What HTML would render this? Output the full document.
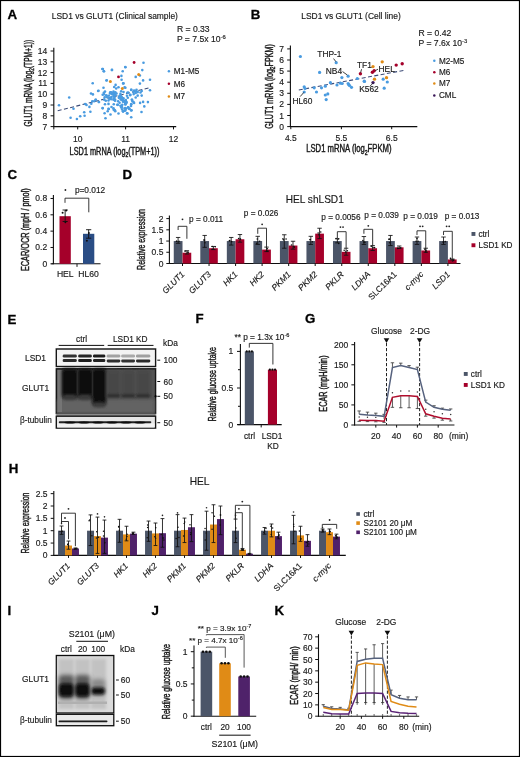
<!DOCTYPE html>
<html><head><meta charset="utf-8"><style>
html,body{margin:0;padding:0;background:#fff;}
svg{display:block;will-change:transform;}
text{font-family:"Liberation Sans",sans-serif;}
</style></head><body>
<svg width="520" height="757" viewBox="0 0 520 757">
<defs>
<filter id="gb" x="0" y="0" width="100%" height="100%"><feGaussianBlur stdDeviation="0.3"/></filter>
<filter id="bl" x="-20%" y="-50%" width="140%" height="200%"><feGaussianBlur stdDeviation="0.7"/></filter>
<filter id="bl15" x="-30%" y="-30%" width="160%" height="160%"><feGaussianBlur stdDeviation="1.7"/></filter>
<filter id="bl06" x="-30%" y="-100%" width="160%" height="300%"><feGaussianBlur stdDeviation="0.55"/></filter>
<filter id="bl09" x="-30%" y="-100%" width="160%" height="300%"><feGaussianBlur stdDeviation="0.9"/></filter>
<filter id="bl25" x="-30%" y="-30%" width="160%" height="160%"><feGaussianBlur stdDeviation="2.3"/></filter>
<filter id="bl2" x="-20%" y="-20%" width="140%" height="140%"><feGaussianBlur stdDeviation="1.5"/></filter>
</defs>
<rect x="0" y="0" width="520" height="757" fill="#fff"/>
<g filter="url(#gb)">
<text transform="translate(7.60,18.50)" font-size="13.3" font-weight="bold" fill="#000" stroke="#000" stroke-width="0.3">A</text>
<text transform="translate(51.80,18.90)" font-size="8.45" fill="#1a1a1a" stroke="#1a1a1a" stroke-width="0.16">LSD1 vs GLUT1 (Clinical sample)</text>
<text transform="translate(176.90,31.80)" font-size="8.6" fill="#1a1a1a" stroke="#1a1a1a" stroke-width="0.16">R = 0.33</text>
<text transform="translate(176.90,42.00)" font-size="8.6" fill="#1a1a1a" stroke="#1a1a1a" stroke-width="0.16">P = 7.5x 10<tspan dy="-3.27" font-size="5.85">-6</tspan><tspan dy="3.27"></tspan></text>
<line x1="53.80" y1="47.70" x2="53.80" y2="127.10" stroke="#111" stroke-width="1.1"/>
<line x1="53.80" y1="126.60" x2="53.80" y2="129.40" stroke="#111" stroke-width="1.0"/>
<line x1="53.30" y1="126.60" x2="176.20" y2="126.60" stroke="#111" stroke-width="1.1"/>
<line x1="50.60" y1="126.60" x2="53.80" y2="126.60" stroke="#111" stroke-width="1.0"/>
<text transform="translate(47.20,129.60)" font-size="8.5" text-anchor="end" fill="#1a1a1a" stroke="#1a1a1a" stroke-width="0.16">7</text>
<line x1="50.60" y1="115.80" x2="53.80" y2="115.80" stroke="#111" stroke-width="1.0"/>
<text transform="translate(47.20,118.80)" font-size="8.5" text-anchor="end" fill="#1a1a1a" stroke="#1a1a1a" stroke-width="0.16">8</text>
<line x1="50.60" y1="105.00" x2="53.80" y2="105.00" stroke="#111" stroke-width="1.0"/>
<text transform="translate(47.20,108.00)" font-size="8.5" text-anchor="end" fill="#1a1a1a" stroke="#1a1a1a" stroke-width="0.16">9</text>
<line x1="50.60" y1="94.20" x2="53.80" y2="94.20" stroke="#111" stroke-width="1.0"/>
<text transform="translate(47.20,97.20)" font-size="8.5" text-anchor="end" fill="#1a1a1a" stroke="#1a1a1a" stroke-width="0.16">10</text>
<line x1="50.60" y1="83.40" x2="53.80" y2="83.40" stroke="#111" stroke-width="1.0"/>
<text transform="translate(47.20,86.40)" font-size="8.5" text-anchor="end" fill="#1a1a1a" stroke="#1a1a1a" stroke-width="0.16">11</text>
<line x1="50.60" y1="72.60" x2="53.80" y2="72.60" stroke="#111" stroke-width="1.0"/>
<text transform="translate(47.20,75.60)" font-size="8.5" text-anchor="end" fill="#1a1a1a" stroke="#1a1a1a" stroke-width="0.16">12</text>
<line x1="50.60" y1="61.80" x2="53.80" y2="61.80" stroke="#111" stroke-width="1.0"/>
<text transform="translate(47.20,64.80)" font-size="8.5" text-anchor="end" fill="#1a1a1a" stroke="#1a1a1a" stroke-width="0.16">13</text>
<line x1="50.60" y1="51.00" x2="53.80" y2="51.00" stroke="#111" stroke-width="1.0"/>
<text transform="translate(47.20,54.00)" font-size="8.5" text-anchor="end" fill="#1a1a1a" stroke="#1a1a1a" stroke-width="0.16">14</text>
<line x1="77.70" y1="126.60" x2="77.70" y2="129.40" stroke="#111" stroke-width="1.0"/>
<text transform="translate(77.70,141.60)" font-size="8.5" text-anchor="middle" fill="#1a1a1a" stroke="#1a1a1a" stroke-width="0.16">10</text>
<line x1="125.60" y1="126.60" x2="125.60" y2="129.40" stroke="#111" stroke-width="1.0"/>
<text transform="translate(125.60,141.60)" font-size="8.5" text-anchor="middle" fill="#1a1a1a" stroke="#1a1a1a" stroke-width="0.16">11</text>
<line x1="173.50" y1="126.60" x2="173.50" y2="129.40" stroke="#111" stroke-width="1.0"/>
<text transform="translate(173.50,141.60)" font-size="8.5" text-anchor="middle" fill="#1a1a1a" stroke="#1a1a1a" stroke-width="0.16">12</text>
<text transform="translate(69.60,155.20) scale(0.735,1)" font-size="10" fill="#1a1a1a" stroke="#1a1a1a" stroke-width="0.42">LSD1 mRNA (log<tspan dy="2.20" font-size="6.80">2</tspan><tspan dy="-2.20">(TPM+1))</tspan></text>
<text transform="translate(31.60,126.50) rotate(-90) scale(0.670,1)" font-size="10" fill="#1a1a1a" stroke="#1a1a1a" stroke-width="0.42">GLUT1 mRNA (log<tspan dy="2.20" font-size="6.80">2</tspan><tspan dy="-2.20">(TPM+1))</tspan></text>
<line x1="57.70" y1="110.80" x2="150.50" y2="87.50" stroke="#3d4c78" stroke-width="1.1" stroke-dasharray="4 2.4"/>
<circle cx="59.00" cy="105.20" r="1.3" fill="#4a9be0"/>
<circle cx="69.20" cy="97.50" r="1.3" fill="#4a9be0"/>
<circle cx="70.60" cy="117.70" r="1.3" fill="#4a9be0"/>
<circle cx="73.50" cy="108.80" r="1.3" fill="#4a9be0"/>
<circle cx="76.90" cy="119.00" r="1.3" fill="#4a9be0"/>
<circle cx="80.20" cy="116.20" r="1.3" fill="#4a9be0"/>
<circle cx="84.20" cy="112.30" r="1.3" fill="#4a9be0"/>
<circle cx="84.60" cy="115.80" r="1.3" fill="#4a9be0"/>
<circle cx="85.20" cy="104.00" r="1.3" fill="#4a9be0"/>
<circle cx="86.50" cy="105.00" r="1.3" fill="#4a9be0"/>
<circle cx="89.40" cy="106.90" r="1.3" fill="#4a9be0"/>
<circle cx="90.40" cy="111.70" r="1.3" fill="#4a9be0"/>
<circle cx="91.30" cy="103.70" r="1.3" fill="#4a9be0"/>
<circle cx="92.30" cy="101.20" r="1.3" fill="#4a9be0"/>
<circle cx="91.00" cy="93.50" r="1.3" fill="#4a9be0"/>
<circle cx="92.90" cy="94.40" r="1.3" fill="#4a9be0"/>
<circle cx="92.70" cy="83.30" r="1.3" fill="#4a9be0"/>
<circle cx="94.20" cy="101.20" r="1.3" fill="#4a9be0"/>
<circle cx="95.60" cy="99.80" r="1.3" fill="#4a9be0"/>
<circle cx="98.10" cy="91.00" r="1.3" fill="#4a9be0"/>
<circle cx="99.00" cy="102.00" r="1.3" fill="#4a9be0"/>
<circle cx="102.30" cy="69.00" r="1.3" fill="#4a9be0"/>
<circle cx="103.80" cy="71.30" r="1.3" fill="#4a9be0"/>
<circle cx="106.70" cy="80.20" r="1.3" fill="#4a9be0"/>
<circle cx="111.90" cy="70.00" r="1.3" fill="#4a9be0"/>
<circle cx="125.30" cy="67.00" r="1.3" fill="#4a9be0"/>
<circle cx="112.00" cy="69.90" r="1.3" fill="#4a9be0"/>
<circle cx="122.70" cy="71.30" r="1.3" fill="#4a9be0"/>
<circle cx="121.40" cy="75.90" r="1.3" fill="#4a9be0"/>
<circle cx="106.50" cy="80.50" r="1.3" fill="#4a9be0"/>
<circle cx="121.60" cy="79.80" r="1.3" fill="#4a9be0"/>
<circle cx="123.10" cy="83.40" r="1.3" fill="#4a9be0"/>
<circle cx="102.90" cy="69.00" r="1.3" fill="#4a9be0"/>
<circle cx="104.00" cy="71.30" r="1.3" fill="#4a9be0"/>
<circle cx="123.50" cy="83.40" r="1.3" fill="#4a9be0"/>
<circle cx="115.60" cy="84.90" r="1.3" fill="#4a9be0"/>
<circle cx="114.20" cy="87.00" r="1.3" fill="#4a9be0"/>
<circle cx="116.20" cy="88.50" r="1.3" fill="#4a9be0"/>
<circle cx="118.50" cy="87.20" r="1.3" fill="#4a9be0"/>
<circle cx="124.60" cy="87.40" r="1.3" fill="#4a9be0"/>
<circle cx="103.50" cy="87.80" r="1.3" fill="#4a9be0"/>
<circle cx="98.50" cy="90.80" r="1.3" fill="#4a9be0"/>
<circle cx="131.20" cy="89.70" r="1.3" fill="#4a9be0"/>
<circle cx="105.00" cy="91.60" r="1.3" fill="#4a9be0"/>
<circle cx="103.80" cy="92.80" r="1.3" fill="#4a9be0"/>
<circle cx="111.20" cy="92.40" r="1.3" fill="#4a9be0"/>
<circle cx="113.50" cy="91.60" r="1.3" fill="#4a9be0"/>
<circle cx="115.40" cy="92.40" r="1.3" fill="#4a9be0"/>
<circle cx="110.00" cy="93.50" r="1.3" fill="#4a9be0"/>
<circle cx="112.30" cy="93.90" r="1.3" fill="#4a9be0"/>
<circle cx="114.60" cy="94.30" r="1.3" fill="#4a9be0"/>
<circle cx="116.50" cy="93.50" r="1.3" fill="#4a9be0"/>
<circle cx="121.20" cy="91.20" r="1.3" fill="#4a9be0"/>
<circle cx="123.50" cy="92.00" r="1.3" fill="#4a9be0"/>
<circle cx="120.40" cy="93.90" r="1.3" fill="#4a9be0"/>
<circle cx="102.70" cy="94.70" r="1.3" fill="#4a9be0"/>
<circle cx="127.30" cy="92.80" r="1.3" fill="#4a9be0"/>
<circle cx="130.00" cy="95.10" r="1.3" fill="#4a9be0"/>
<circle cx="133.50" cy="92.00" r="1.3" fill="#4a9be0"/>
<circle cx="108.80" cy="95.80" r="1.3" fill="#4a9be0"/>
<circle cx="111.50" cy="97.00" r="1.3" fill="#4a9be0"/>
<circle cx="113.80" cy="95.80" r="1.3" fill="#4a9be0"/>
<circle cx="114.60" cy="97.80" r="1.3" fill="#4a9be0"/>
<circle cx="120.40" cy="96.60" r="1.3" fill="#4a9be0"/>
<circle cx="121.90" cy="97.40" r="1.3" fill="#4a9be0"/>
<circle cx="123.50" cy="98.20" r="1.3" fill="#4a9be0"/>
<circle cx="104.60" cy="97.40" r="1.3" fill="#4a9be0"/>
<circle cx="104.20" cy="99.70" r="1.3" fill="#4a9be0"/>
<circle cx="105.80" cy="100.80" r="1.3" fill="#4a9be0"/>
<circle cx="108.50" cy="100.50" r="1.3" fill="#4a9be0"/>
<circle cx="113.50" cy="99.70" r="1.3" fill="#4a9be0"/>
<circle cx="115.00" cy="100.80" r="1.3" fill="#4a9be0"/>
<circle cx="118.10" cy="101.20" r="1.3" fill="#4a9be0"/>
<circle cx="119.60" cy="102.80" r="1.3" fill="#4a9be0"/>
<circle cx="121.50" cy="99.70" r="1.3" fill="#4a9be0"/>
<circle cx="124.20" cy="100.80" r="1.3" fill="#4a9be0"/>
<circle cx="125.80" cy="100.10" r="1.3" fill="#4a9be0"/>
<circle cx="126.50" cy="102.00" r="1.3" fill="#4a9be0"/>
<circle cx="131.90" cy="99.70" r="1.3" fill="#4a9be0"/>
<circle cx="133.50" cy="102.00" r="1.3" fill="#4a9be0"/>
<circle cx="95.80" cy="99.70" r="1.3" fill="#4a9be0"/>
<circle cx="98.80" cy="102.00" r="1.3" fill="#4a9be0"/>
<circle cx="105.00" cy="104.30" r="1.3" fill="#4a9be0"/>
<circle cx="108.50" cy="103.90" r="1.3" fill="#4a9be0"/>
<circle cx="113.80" cy="104.30" r="1.3" fill="#4a9be0"/>
<circle cx="117.30" cy="104.70" r="1.3" fill="#4a9be0"/>
<circle cx="120.40" cy="105.80" r="1.3" fill="#4a9be0"/>
<circle cx="122.30" cy="104.70" r="1.3" fill="#4a9be0"/>
<circle cx="125.40" cy="104.30" r="1.3" fill="#4a9be0"/>
<circle cx="131.20" cy="104.30" r="1.3" fill="#4a9be0"/>
<circle cx="102.70" cy="108.20" r="1.3" fill="#4a9be0"/>
<circle cx="111.50" cy="107.00" r="1.3" fill="#4a9be0"/>
<circle cx="113.50" cy="108.20" r="1.3" fill="#4a9be0"/>
<circle cx="114.60" cy="110.10" r="1.3" fill="#4a9be0"/>
<circle cx="108.50" cy="108.90" r="1.3" fill="#4a9be0"/>
<circle cx="107.70" cy="111.20" r="1.3" fill="#4a9be0"/>
<circle cx="121.20" cy="107.40" r="1.3" fill="#4a9be0"/>
<circle cx="124.60" cy="108.50" r="1.3" fill="#4a9be0"/>
<circle cx="128.10" cy="107.40" r="1.3" fill="#4a9be0"/>
<circle cx="129.60" cy="108.90" r="1.3" fill="#4a9be0"/>
<circle cx="123.10" cy="111.60" r="1.3" fill="#4a9be0"/>
<circle cx="124.60" cy="110.80" r="1.3" fill="#4a9be0"/>
<circle cx="131.20" cy="110.50" r="1.3" fill="#4a9be0"/>
<circle cx="104.60" cy="113.20" r="1.3" fill="#4a9be0"/>
<circle cx="115.00" cy="110.50" r="1.3" fill="#4a9be0"/>
<circle cx="143.50" cy="62.80" r="1.3" fill="#4a9be0"/>
<circle cx="125.40" cy="67.30" r="1.3" fill="#4a9be0"/>
<circle cx="142.30" cy="70.10" r="1.3" fill="#4a9be0"/>
<circle cx="139.90" cy="75.50" r="1.3" fill="#4a9be0"/>
<circle cx="135.70" cy="76.90" r="1.3" fill="#4a9be0"/>
<circle cx="143.10" cy="80.40" r="1.3" fill="#4a9be0"/>
<circle cx="150.00" cy="79.80" r="1.3" fill="#4a9be0"/>
<circle cx="139.90" cy="83.60" r="1.3" fill="#4a9be0"/>
<circle cx="125.40" cy="87.80" r="1.3" fill="#4a9be0"/>
<circle cx="131.30" cy="89.90" r="1.3" fill="#4a9be0"/>
<circle cx="134.10" cy="90.60" r="1.3" fill="#4a9be0"/>
<circle cx="136.50" cy="89.80" r="1.3" fill="#4a9be0"/>
<circle cx="136.10" cy="91.30" r="1.3" fill="#4a9be0"/>
<circle cx="141.70" cy="91.00" r="1.3" fill="#4a9be0"/>
<circle cx="150.00" cy="90.30" r="1.3" fill="#4a9be0"/>
<circle cx="128.20" cy="92.50" r="1.3" fill="#4a9be0"/>
<circle cx="133.70" cy="94.10" r="1.3" fill="#4a9be0"/>
<circle cx="135.70" cy="92.90" r="1.3" fill="#4a9be0"/>
<circle cx="137.70" cy="92.10" r="1.3" fill="#4a9be0"/>
<circle cx="130.40" cy="94.90" r="1.3" fill="#4a9be0"/>
<circle cx="140.50" cy="92.50" r="1.3" fill="#4a9be0"/>
<circle cx="137.70" cy="95.60" r="1.3" fill="#4a9be0"/>
<circle cx="135.70" cy="97.50" r="1.3" fill="#4a9be0"/>
<circle cx="141.70" cy="95.60" r="1.3" fill="#4a9be0"/>
<circle cx="127.00" cy="95.70" r="1.3" fill="#4a9be0"/>
<circle cx="127.80" cy="97.70" r="1.3" fill="#4a9be0"/>
<circle cx="125.80" cy="101.00" r="1.3" fill="#4a9be0"/>
<circle cx="126.60" cy="102.80" r="1.3" fill="#4a9be0"/>
<circle cx="125.40" cy="104.40" r="1.3" fill="#4a9be0"/>
<circle cx="132.00" cy="99.70" r="1.3" fill="#4a9be0"/>
<circle cx="132.50" cy="101.30" r="1.3" fill="#4a9be0"/>
<circle cx="134.10" cy="103.00" r="1.3" fill="#4a9be0"/>
<circle cx="131.30" cy="104.00" r="1.3" fill="#4a9be0"/>
<circle cx="140.10" cy="102.90" r="1.3" fill="#4a9be0"/>
<circle cx="143.10" cy="101.90" r="1.3" fill="#4a9be0"/>
<circle cx="147.90" cy="102.10" r="1.3" fill="#4a9be0"/>
<circle cx="144.30" cy="106.40" r="1.3" fill="#4a9be0"/>
<circle cx="128.20" cy="107.20" r="1.3" fill="#4a9be0"/>
<circle cx="129.00" cy="108.80" r="1.3" fill="#4a9be0"/>
<circle cx="131.50" cy="110.20" r="1.3" fill="#4a9be0"/>
<circle cx="131.00" cy="106.00" r="1.3" fill="#4a9be0"/>
<circle cx="125.40" cy="110.40" r="1.3" fill="#4a9be0"/>
<circle cx="127.00" cy="113.30" r="1.3" fill="#4a9be0"/>
<circle cx="141.50" cy="112.00" r="1.3" fill="#4a9be0"/>
<circle cx="131.20" cy="117.30" r="1.3" fill="#4a9be0"/>
<circle cx="105.50" cy="118.20" r="1.3" fill="#4a9be0"/>
<circle cx="127.40" cy="113.40" r="1.3" fill="#4a9be0"/>
<circle cx="123.00" cy="111.30" r="1.3" fill="#4a9be0"/>
<circle cx="108.70" cy="109.00" r="1.3" fill="#4a9be0"/>
<circle cx="113.70" cy="109.80" r="1.3" fill="#4a9be0"/>
<circle cx="115.20" cy="111.30" r="1.3" fill="#4a9be0"/>
<circle cx="102.60" cy="108.10" r="1.3" fill="#4a9be0"/>
<circle cx="118.50" cy="113.50" r="1.3" fill="#4a9be0"/>
<circle cx="110.50" cy="114.50" r="1.3" fill="#4a9be0"/>
<circle cx="111.79" cy="93.24" r="1.3" fill="#4a9be0"/>
<circle cx="113.87" cy="92.86" r="1.3" fill="#4a9be0"/>
<circle cx="112.03" cy="93.35" r="1.3" fill="#4a9be0"/>
<circle cx="110.61" cy="93.05" r="1.3" fill="#4a9be0"/>
<circle cx="112.57" cy="94.17" r="1.3" fill="#4a9be0"/>
<circle cx="110.21" cy="92.21" r="1.3" fill="#4a9be0"/>
<circle cx="111.20" cy="99.24" r="1.3" fill="#4a9be0"/>
<circle cx="113.85" cy="96.17" r="1.3" fill="#4a9be0"/>
<circle cx="115.12" cy="99.86" r="1.3" fill="#4a9be0"/>
<circle cx="113.68" cy="98.46" r="1.3" fill="#4a9be0"/>
<circle cx="119.49" cy="96.06" r="1.3" fill="#4a9be0"/>
<circle cx="121.12" cy="96.24" r="1.3" fill="#4a9be0"/>
<circle cx="119.64" cy="96.97" r="1.3" fill="#4a9be0"/>
<circle cx="118.93" cy="97.86" r="1.3" fill="#4a9be0"/>
<circle cx="120.74" cy="99.37" r="1.3" fill="#4a9be0"/>
<circle cx="121.08" cy="98.56" r="1.3" fill="#4a9be0"/>
<circle cx="123.00" cy="101.65" r="1.3" fill="#4a9be0"/>
<circle cx="122.81" cy="100.11" r="1.3" fill="#4a9be0"/>
<circle cx="125.19" cy="102.98" r="1.3" fill="#4a9be0"/>
<circle cx="124.50" cy="101.83" r="1.3" fill="#4a9be0"/>
<circle cx="122.19" cy="99.92" r="1.3" fill="#4a9be0"/>
<circle cx="104.07" cy="94.28" r="1.3" fill="#4a9be0"/>
<circle cx="106.17" cy="95.60" r="1.3" fill="#4a9be0"/>
<circle cx="106.52" cy="95.55" r="1.3" fill="#4a9be0"/>
<circle cx="122.02" cy="107.39" r="1.3" fill="#4a9be0"/>
<circle cx="117.80" cy="104.84" r="1.3" fill="#4a9be0"/>
<circle cx="121.81" cy="105.88" r="1.3" fill="#4a9be0"/>
<circle cx="126.11" cy="108.59" r="1.3" fill="#4a9be0"/>
<circle cx="122.12" cy="109.52" r="1.3" fill="#4a9be0"/>
<circle cx="125.23" cy="108.08" r="1.3" fill="#4a9be0"/>
<circle cx="115.18" cy="95.33" r="1.3" fill="#4a9be0"/>
<circle cx="119.04" cy="97.03" r="1.3" fill="#4a9be0"/>
<circle cx="115.32" cy="94.99" r="1.3" fill="#4a9be0"/>
<circle cx="107.24" cy="97.24" r="1.3" fill="#4a9be0"/>
<circle cx="110.31" cy="97.71" r="1.3" fill="#4a9be0"/>
<circle cx="109.26" cy="98.79" r="1.3" fill="#4a9be0"/>
<circle cx="134.10" cy="62.50" r="1.4" fill="#a5062c"/>
<circle cx="118.50" cy="76.90" r="1.4" fill="#a5062c"/>
<circle cx="138.70" cy="74.40" r="1.5" fill="#e08b16"/>
<circle cx="110.40" cy="81.40" r="1.5" fill="#e08b16"/>
<circle cx="122.30" cy="88.50" r="1.5" fill="#e08b16"/>
<circle cx="168.90" cy="71.20" r="1.25" fill="#4a9be0"/>
<text transform="translate(173.80,74.00)" font-size="8.2" fill="#1a1a1a" stroke="#1a1a1a" stroke-width="0.16">M1-M5</text>
<circle cx="168.90" cy="83.80" r="1.25" fill="#a5062c"/>
<text transform="translate(173.80,86.60)" font-size="8.2" fill="#1a1a1a" stroke="#1a1a1a" stroke-width="0.16">M6</text>
<circle cx="168.90" cy="96.50" r="1.25" fill="#e08b16"/>
<text transform="translate(173.80,99.30)" font-size="8.2" fill="#1a1a1a" stroke="#1a1a1a" stroke-width="0.16">M7</text>
<text transform="translate(250.80,18.50)" font-size="13.3" font-weight="bold" fill="#000" stroke="#000" stroke-width="0.3">B</text>
<text transform="translate(301.30,18.90)" font-size="8.45" fill="#1a1a1a" stroke="#1a1a1a" stroke-width="0.16">LSD1 vs GLUT1 (Cell line)</text>
<text transform="translate(418.50,35.70)" font-size="8.6" fill="#1a1a1a" stroke="#1a1a1a" stroke-width="0.16">R = 0.42</text>
<text transform="translate(418.50,45.80)" font-size="8.6" fill="#1a1a1a" stroke="#1a1a1a" stroke-width="0.16">P = 7.6x 10<tspan dy="-3.27" font-size="5.85">-3</tspan><tspan dy="3.27"></tspan></text>
<line x1="290.40" y1="45.40" x2="290.40" y2="127.10" stroke="#111" stroke-width="1.1"/>
<line x1="289.90" y1="126.60" x2="417.30" y2="126.60" stroke="#111" stroke-width="1.1"/>
<line x1="287.20" y1="126.60" x2="290.40" y2="126.60" stroke="#111" stroke-width="1.0"/>
<text transform="translate(284.00,129.60)" font-size="8.5" text-anchor="end" fill="#1a1a1a" stroke="#1a1a1a" stroke-width="0.16">0</text>
<line x1="287.20" y1="115.50" x2="290.40" y2="115.50" stroke="#111" stroke-width="1.0"/>
<text transform="translate(284.00,118.50)" font-size="8.5" text-anchor="end" fill="#1a1a1a" stroke="#1a1a1a" stroke-width="0.16">1</text>
<line x1="287.20" y1="104.40" x2="290.40" y2="104.40" stroke="#111" stroke-width="1.0"/>
<text transform="translate(284.00,107.40)" font-size="8.5" text-anchor="end" fill="#1a1a1a" stroke="#1a1a1a" stroke-width="0.16">2</text>
<line x1="287.20" y1="93.30" x2="290.40" y2="93.30" stroke="#111" stroke-width="1.0"/>
<text transform="translate(284.00,96.30)" font-size="8.5" text-anchor="end" fill="#1a1a1a" stroke="#1a1a1a" stroke-width="0.16">3</text>
<line x1="287.20" y1="82.20" x2="290.40" y2="82.20" stroke="#111" stroke-width="1.0"/>
<text transform="translate(284.00,85.20)" font-size="8.5" text-anchor="end" fill="#1a1a1a" stroke="#1a1a1a" stroke-width="0.16">4</text>
<line x1="287.20" y1="71.10" x2="290.40" y2="71.10" stroke="#111" stroke-width="1.0"/>
<text transform="translate(284.00,74.10)" font-size="8.5" text-anchor="end" fill="#1a1a1a" stroke="#1a1a1a" stroke-width="0.16">5</text>
<line x1="287.20" y1="60.00" x2="290.40" y2="60.00" stroke="#111" stroke-width="1.0"/>
<text transform="translate(284.00,63.00)" font-size="8.5" text-anchor="end" fill="#1a1a1a" stroke="#1a1a1a" stroke-width="0.16">6</text>
<line x1="287.20" y1="48.90" x2="290.40" y2="48.90" stroke="#111" stroke-width="1.0"/>
<text transform="translate(284.00,51.90)" font-size="8.5" text-anchor="end" fill="#1a1a1a" stroke="#1a1a1a" stroke-width="0.16">7</text>
<line x1="290.80" y1="126.60" x2="290.80" y2="129.20" stroke="#111" stroke-width="1.0"/>
<text transform="translate(290.80,140.80)" font-size="8.5" text-anchor="middle" fill="#1a1a1a" stroke="#1a1a1a" stroke-width="0.16">4.5</text>
<line x1="341.40" y1="126.60" x2="341.40" y2="129.20" stroke="#111" stroke-width="1.0"/>
<text transform="translate(341.40,140.80)" font-size="8.5" text-anchor="middle" fill="#1a1a1a" stroke="#1a1a1a" stroke-width="0.16">5.5</text>
<line x1="391.70" y1="126.60" x2="391.70" y2="129.20" stroke="#111" stroke-width="1.0"/>
<text transform="translate(391.70,140.80)" font-size="8.5" text-anchor="middle" fill="#1a1a1a" stroke="#1a1a1a" stroke-width="0.16">6.5</text>
<text transform="translate(306.20,152.40) scale(0.770,1)" font-size="10" fill="#1a1a1a" stroke="#1a1a1a" stroke-width="0.42">LSD1 mRNA (log<tspan dy="2.20" font-size="6.80">2</tspan><tspan dy="-2.20">FPKM)</tspan></text>
<text transform="translate(272.60,128.70) rotate(-90) scale(0.715,1)" font-size="10" fill="#1a1a1a" stroke="#1a1a1a" stroke-width="0.42">GLUT1 mRNA (log<tspan dy="2.20" font-size="6.80">2</tspan><tspan dy="-2.20">FPKM)</tspan></text>
<line x1="298.80" y1="90.00" x2="404.20" y2="70.30" stroke="#3d4c78" stroke-width="1.1" stroke-dasharray="4 2.4"/>
<circle cx="300.40" cy="56.50" r="1.6" fill="#4a9be0"/>
<circle cx="336.20" cy="62.70" r="1.6" fill="#4a9be0"/>
<circle cx="319.60" cy="72.40" r="1.6" fill="#4a9be0"/>
<circle cx="341.90" cy="77.60" r="1.6" fill="#4a9be0"/>
<circle cx="348.10" cy="76.20" r="1.6" fill="#4a9be0"/>
<circle cx="357.30" cy="78.50" r="1.6" fill="#4a9be0"/>
<circle cx="364.20" cy="81.20" r="1.6" fill="#4a9be0"/>
<circle cx="304.20" cy="86.80" r="1.6" fill="#4a9be0"/>
<circle cx="305.00" cy="88.50" r="1.6" fill="#4a9be0"/>
<circle cx="314.20" cy="87.80" r="1.6" fill="#4a9be0"/>
<circle cx="316.50" cy="92.00" r="1.6" fill="#4a9be0"/>
<circle cx="321.50" cy="87.80" r="1.6" fill="#4a9be0"/>
<circle cx="325.30" cy="86.20" r="1.6" fill="#4a9be0"/>
<circle cx="330.40" cy="82.70" r="1.6" fill="#4a9be0"/>
<circle cx="337.00" cy="85.00" r="1.6" fill="#4a9be0"/>
<circle cx="340.40" cy="83.20" r="1.6" fill="#4a9be0"/>
<circle cx="342.20" cy="83.50" r="1.6" fill="#4a9be0"/>
<circle cx="348.10" cy="83.50" r="1.6" fill="#4a9be0"/>
<circle cx="348.80" cy="84.70" r="1.6" fill="#4a9be0"/>
<circle cx="351.50" cy="87.30" r="1.6" fill="#4a9be0"/>
<circle cx="304.20" cy="92.00" r="1.6" fill="#4a9be0"/>
<circle cx="325.30" cy="95.00" r="1.6" fill="#4a9be0"/>
<circle cx="327.80" cy="93.90" r="1.6" fill="#4a9be0"/>
<circle cx="326.20" cy="99.60" r="1.6" fill="#4a9be0"/>
<circle cx="364.50" cy="81.50" r="1.6" fill="#4a9be0"/>
<circle cx="383.20" cy="79.20" r="1.6" fill="#4a9be0"/>
<circle cx="387.30" cy="82.00" r="1.6" fill="#4a9be0"/>
<circle cx="384.20" cy="88.20" r="1.6" fill="#4a9be0"/>
<circle cx="349.50" cy="85.50" r="1.6" fill="#4a9be0"/>
<circle cx="360.40" cy="73.80" r="1.7" fill="#a5062c"/>
<circle cx="372.40" cy="72.30" r="1.7" fill="#a5062c"/>
<circle cx="374.20" cy="70.80" r="1.7" fill="#a5062c"/>
<circle cx="396.20" cy="65.10" r="1.7" fill="#a5062c"/>
<circle cx="402.20" cy="63.80" r="1.7" fill="#a5062c"/>
<circle cx="373.00" cy="66.60" r="1.65" fill="#e08b16"/>
<circle cx="382.20" cy="61.80" r="1.65" fill="#e08b16"/>
<circle cx="374.50" cy="79.20" r="1.65" fill="#e08b16"/>
<circle cx="386.50" cy="77.70" r="1.65" fill="#e08b16"/>
<circle cx="373.00" cy="82.60" r="1.65" fill="#3a1858"/>
<text transform="translate(317.30,57.20)" font-size="8.4" fill="#1a1a1a" stroke="#1a1a1a" stroke-width="0.16">THP-1</text>
<line x1="333.60" y1="58.60" x2="335.80" y2="61.60" stroke="#111" stroke-width="0.8"/>
<text transform="translate(325.80,74.00)" font-size="8.4" fill="#1a1a1a" stroke="#1a1a1a" stroke-width="0.16">NB4</text>
<line x1="342.60" y1="71.60" x2="347.30" y2="75.00" stroke="#111" stroke-width="0.8"/>
<text transform="translate(292.40,104.30)" font-size="8.4" fill="#1a1a1a" stroke="#1a1a1a" stroke-width="0.16">HL60</text>
<line x1="303.80" y1="92.40" x2="300.20" y2="96.60" stroke="#111" stroke-width="0.8"/>
<text transform="translate(357.00,67.50)" font-size="8.4" fill="#1a1a1a" stroke="#1a1a1a" stroke-width="0.16">TF1</text>
<line x1="361.60" y1="69.20" x2="360.60" y2="72.50" stroke="#111" stroke-width="0.8"/>
<text transform="translate(378.50,72.30)" font-size="8.4" fill="#1a1a1a" stroke="#1a1a1a" stroke-width="0.16">HEL</text>
<line x1="375.30" y1="70.60" x2="378.00" y2="69.20" stroke="#111" stroke-width="0.8"/>
<text transform="translate(359.20,92.40)" font-size="8.4" fill="#1a1a1a" stroke="#1a1a1a" stroke-width="0.16">K562</text>
<line x1="372.60" y1="83.60" x2="369.50" y2="86.60" stroke="#111" stroke-width="0.8"/>
<circle cx="434.30" cy="60.80" r="1.25" fill="#4a9be0"/>
<text transform="translate(438.90,63.60)" font-size="8.2" fill="#1a1a1a" stroke="#1a1a1a" stroke-width="0.16">M2-M5</text>
<circle cx="434.30" cy="72.30" r="1.25" fill="#a5062c"/>
<text transform="translate(438.90,75.10)" font-size="8.2" fill="#1a1a1a" stroke="#1a1a1a" stroke-width="0.16">M6</text>
<circle cx="434.30" cy="83.50" r="1.25" fill="#e08b16"/>
<text transform="translate(438.90,86.30)" font-size="8.2" fill="#1a1a1a" stroke="#1a1a1a" stroke-width="0.16">M7</text>
<circle cx="434.30" cy="95.40" r="1.25" fill="#3a1858"/>
<text transform="translate(438.90,98.20)" font-size="8.2" fill="#1a1a1a" stroke="#1a1a1a" stroke-width="0.16">CML</text>
<text transform="translate(7.40,178.70)" font-size="13.3" font-weight="bold" fill="#000" stroke="#000" stroke-width="0.3">C</text>
<line x1="53.40" y1="195.10" x2="53.40" y2="264.30" stroke="#111" stroke-width="1.1"/>
<line x1="51.50" y1="263.80" x2="100.50" y2="263.80" stroke="#111" stroke-width="1.1"/>
<line x1="50.50" y1="263.80" x2="53.40" y2="263.80" stroke="#111" stroke-width="1.0"/>
<text transform="translate(47.20,266.80)" font-size="8.5" text-anchor="end" fill="#1a1a1a" stroke="#1a1a1a" stroke-width="0.16">0</text>
<line x1="50.50" y1="247.47" x2="53.40" y2="247.47" stroke="#111" stroke-width="1.0"/>
<text transform="translate(47.20,250.47)" font-size="8.5" text-anchor="end" fill="#1a1a1a" stroke="#1a1a1a" stroke-width="0.16">0.2</text>
<line x1="50.50" y1="231.14" x2="53.40" y2="231.14" stroke="#111" stroke-width="1.0"/>
<text transform="translate(47.20,234.14)" font-size="8.5" text-anchor="end" fill="#1a1a1a" stroke="#1a1a1a" stroke-width="0.16">0.4</text>
<line x1="50.50" y1="214.81" x2="53.40" y2="214.81" stroke="#111" stroke-width="1.0"/>
<text transform="translate(47.20,217.81)" font-size="8.5" text-anchor="end" fill="#1a1a1a" stroke="#1a1a1a" stroke-width="0.16">0.6</text>
<line x1="50.50" y1="198.48" x2="53.40" y2="198.48" stroke="#111" stroke-width="1.0"/>
<text transform="translate(47.20,201.48)" font-size="8.5" text-anchor="end" fill="#1a1a1a" stroke="#1a1a1a" stroke-width="0.16">0.8</text>
<line x1="77.00" y1="263.80" x2="77.00" y2="266.80" stroke="#111" stroke-width="1.0"/>
<rect x="59.50" y="216.20" width="11.30" height="47.60" fill="#a5062c"/>
<rect x="83.00" y="233.80" width="11.30" height="30.00" fill="#2c4d85"/>
<line x1="65.15" y1="210.00" x2="65.15" y2="221.50" stroke="#111" stroke-width="0.9"/>
<line x1="62.55" y1="210.00" x2="67.75" y2="210.00" stroke="#111" stroke-width="0.9"/>
<line x1="62.55" y1="221.50" x2="67.75" y2="221.50" stroke="#111" stroke-width="0.9"/>
<line x1="88.65" y1="229.70" x2="88.65" y2="238.20" stroke="#111" stroke-width="0.9"/>
<line x1="86.05" y1="229.70" x2="91.25" y2="229.70" stroke="#111" stroke-width="0.9"/>
<line x1="86.05" y1="238.20" x2="91.25" y2="238.20" stroke="#111" stroke-width="0.9"/>
<circle cx="62.60" cy="212.80" r="1.0" fill="#111"/>
<circle cx="66.20" cy="210.60" r="1.0" fill="#111"/>
<circle cx="65.40" cy="222.30" r="1.0" fill="#111"/>
<circle cx="88.90" cy="233.10" r="1.0" fill="#111"/>
<circle cx="86.90" cy="240.80" r="1.0" fill="#111"/>
<path d="M65,202.8 V198.2 H88.8 V212.3" fill="none" stroke="#222" stroke-width="0.9"/>
<circle cx="65.40" cy="190.00" r="0.9" fill="#222"/>
<text transform="translate(74.90,192.60)" font-size="8.3" fill="#1a1a1a" stroke="#1a1a1a" stroke-width="0.16">p=0.012</text>
<text transform="translate(28.90,271.10) rotate(-90) scale(0.732,1)" font-size="10" fill="#1a1a1a" stroke="#1a1a1a" stroke-width="0.42">ECAR/OCR (mpH / pmol)</text>
<text transform="translate(65.25,277.40)" font-size="8.6" text-anchor="middle" fill="#1a1a1a" stroke="#1a1a1a" stroke-width="0.16">HEL</text>
<text transform="translate(88.50,277.40)" font-size="8.6" text-anchor="middle" fill="#1a1a1a" stroke="#1a1a1a" stroke-width="0.16">HL60</text>
<text transform="translate(122.60,178.70)" font-size="13.3" font-weight="bold" fill="#000" stroke="#000" stroke-width="0.3">D</text>
<text transform="translate(285.80,202.50)" font-size="10.1" fill="#1a1a1a" stroke="#1a1a1a" stroke-width="0.16">HEL shLSD1</text>
<line x1="169.40" y1="215.40" x2="169.40" y2="264.00" stroke="#111" stroke-width="1.1"/>
<line x1="168.90" y1="263.50" x2="460.50" y2="263.50" stroke="#111" stroke-width="1.1"/>
<line x1="166.30" y1="263.50" x2="169.40" y2="263.50" stroke="#111" stroke-width="1.0"/>
<text transform="translate(163.40,266.50)" font-size="8.5" text-anchor="end" fill="#1a1a1a" stroke="#1a1a1a" stroke-width="0.16">0</text>
<line x1="166.30" y1="252.28" x2="169.40" y2="252.28" stroke="#111" stroke-width="1.0"/>
<text transform="translate(163.40,255.28)" font-size="8.5" text-anchor="end" fill="#1a1a1a" stroke="#1a1a1a" stroke-width="0.16">0.5</text>
<line x1="166.30" y1="241.05" x2="169.40" y2="241.05" stroke="#111" stroke-width="1.0"/>
<text transform="translate(163.40,244.05)" font-size="8.5" text-anchor="end" fill="#1a1a1a" stroke="#1a1a1a" stroke-width="0.16">1</text>
<line x1="166.30" y1="229.82" x2="169.40" y2="229.82" stroke="#111" stroke-width="1.0"/>
<text transform="translate(163.40,232.82)" font-size="8.5" text-anchor="end" fill="#1a1a1a" stroke="#1a1a1a" stroke-width="0.16">1.5</text>
<line x1="166.30" y1="218.60" x2="169.40" y2="218.60" stroke="#111" stroke-width="1.0"/>
<text transform="translate(163.40,221.60)" font-size="8.5" text-anchor="end" fill="#1a1a1a" stroke="#1a1a1a" stroke-width="0.16">2</text>
<text transform="translate(145.20,269.90) rotate(-90) scale(0.699,1)" font-size="10" fill="#1a1a1a" stroke="#1a1a1a" stroke-width="0.42">Relative expression</text>
<rect x="173.75" y="241.05" width="8.75" height="22.45" fill="#4c5467"/>
<rect x="182.50" y="252.72" width="8.75" height="10.78" fill="#a5062c"/>
<line x1="178.12" y1="237.46" x2="178.12" y2="243.30" stroke="#111" stroke-width="0.85"/>
<line x1="175.93" y1="237.46" x2="180.32" y2="237.46" stroke="#111" stroke-width="0.85"/>
<line x1="175.93" y1="243.30" x2="180.32" y2="243.30" stroke="#111" stroke-width="0.85"/>
<line x1="186.88" y1="250.70" x2="186.88" y2="254.07" stroke="#111" stroke-width="0.85"/>
<line x1="184.68" y1="250.70" x2="189.07" y2="250.70" stroke="#111" stroke-width="0.85"/>
<line x1="184.68" y1="254.07" x2="189.07" y2="254.07" stroke="#111" stroke-width="0.85"/>
<circle cx="176.71" cy="241.29" r="0.8" fill="#111"/>
<circle cx="187.96" cy="251.99" r="0.8" fill="#111"/>
<circle cx="179.05" cy="241.41" r="0.8" fill="#111"/>
<circle cx="188.08" cy="252.61" r="0.8" fill="#111"/>
<circle cx="176.45" cy="241.29" r="0.8" fill="#111"/>
<circle cx="185.07" cy="251.17" r="0.8" fill="#111"/>
<line x1="182.50" y1="263.50" x2="182.50" y2="266.00" stroke="#111" stroke-width="1.0"/>
<text transform="translate(185.10,274.80) rotate(-45)" font-size="8.5" text-anchor="end" font-style="italic" fill="#1a1a1a" stroke="#1a1a1a" stroke-width="0.16">GLUT1</text>
<rect x="200.29" y="241.05" width="8.75" height="22.45" fill="#4c5467"/>
<rect x="209.04" y="248.23" width="8.75" height="15.27" fill="#a5062c"/>
<line x1="204.66" y1="235.44" x2="204.66" y2="247.34" stroke="#111" stroke-width="0.85"/>
<line x1="202.47" y1="235.44" x2="206.86" y2="235.44" stroke="#111" stroke-width="0.85"/>
<line x1="202.47" y1="247.34" x2="206.86" y2="247.34" stroke="#111" stroke-width="0.85"/>
<line x1="213.41" y1="246.44" x2="213.41" y2="249.58" stroke="#111" stroke-width="0.85"/>
<line x1="211.22" y1="246.44" x2="215.61" y2="246.44" stroke="#111" stroke-width="0.85"/>
<line x1="211.22" y1="249.58" x2="215.61" y2="249.58" stroke="#111" stroke-width="0.85"/>
<circle cx="204.99" cy="242.69" r="0.8" fill="#111"/>
<circle cx="215.28" cy="246.71" r="0.8" fill="#111"/>
<circle cx="204.53" cy="240.17" r="0.8" fill="#111"/>
<circle cx="212.27" cy="249.23" r="0.8" fill="#111"/>
<circle cx="203.82" cy="240.01" r="0.8" fill="#111"/>
<circle cx="212.26" cy="246.54" r="0.8" fill="#111"/>
<line x1="209.04" y1="263.50" x2="209.04" y2="266.00" stroke="#111" stroke-width="1.0"/>
<text transform="translate(211.64,274.80) rotate(-45)" font-size="8.5" text-anchor="end" font-style="italic" fill="#1a1a1a" stroke="#1a1a1a" stroke-width="0.16">GLUT3</text>
<rect x="226.83" y="241.05" width="8.75" height="22.45" fill="#4c5467"/>
<rect x="235.58" y="239.25" width="8.75" height="24.25" fill="#a5062c"/>
<line x1="231.20" y1="237.46" x2="231.20" y2="245.09" stroke="#111" stroke-width="0.85"/>
<line x1="229.00" y1="237.46" x2="233.40" y2="237.46" stroke="#111" stroke-width="0.85"/>
<line x1="229.00" y1="245.09" x2="233.40" y2="245.09" stroke="#111" stroke-width="0.85"/>
<line x1="239.95" y1="234.54" x2="239.95" y2="242.17" stroke="#111" stroke-width="0.85"/>
<line x1="237.75" y1="234.54" x2="242.15" y2="234.54" stroke="#111" stroke-width="0.85"/>
<line x1="237.75" y1="242.17" x2="242.15" y2="242.17" stroke="#111" stroke-width="0.85"/>
<circle cx="229.80" cy="240.43" r="0.8" fill="#111"/>
<circle cx="238.63" cy="238.49" r="0.8" fill="#111"/>
<circle cx="231.64" cy="241.67" r="0.8" fill="#111"/>
<circle cx="240.42" cy="239.02" r="0.8" fill="#111"/>
<circle cx="229.38" cy="240.89" r="0.8" fill="#111"/>
<circle cx="240.43" cy="239.18" r="0.8" fill="#111"/>
<line x1="235.58" y1="263.50" x2="235.58" y2="266.00" stroke="#111" stroke-width="1.0"/>
<text transform="translate(238.18,274.80) rotate(-45)" font-size="8.5" text-anchor="end" font-style="italic" fill="#1a1a1a" stroke="#1a1a1a" stroke-width="0.16">HK1</text>
<rect x="253.37" y="241.05" width="8.75" height="22.45" fill="#4c5467"/>
<rect x="262.12" y="249.58" width="8.75" height="13.92" fill="#a5062c"/>
<line x1="257.75" y1="236.34" x2="257.75" y2="244.42" stroke="#111" stroke-width="0.85"/>
<line x1="255.55" y1="236.34" x2="259.94" y2="236.34" stroke="#111" stroke-width="0.85"/>
<line x1="255.55" y1="244.42" x2="259.94" y2="244.42" stroke="#111" stroke-width="0.85"/>
<line x1="266.50" y1="247.11" x2="266.50" y2="251.60" stroke="#111" stroke-width="0.85"/>
<line x1="264.30" y1="247.11" x2="268.69" y2="247.11" stroke="#111" stroke-width="0.85"/>
<line x1="264.30" y1="251.60" x2="268.69" y2="251.60" stroke="#111" stroke-width="0.85"/>
<circle cx="259.66" cy="241.29" r="0.8" fill="#111"/>
<circle cx="267.37" cy="248.74" r="0.8" fill="#111"/>
<circle cx="256.60" cy="243.32" r="0.8" fill="#111"/>
<circle cx="266.91" cy="250.94" r="0.8" fill="#111"/>
<circle cx="257.27" cy="238.95" r="0.8" fill="#111"/>
<circle cx="267.98" cy="250.95" r="0.8" fill="#111"/>
<line x1="262.12" y1="263.50" x2="262.12" y2="266.00" stroke="#111" stroke-width="1.0"/>
<text transform="translate(264.72,274.80) rotate(-45)" font-size="8.5" text-anchor="end" font-style="italic" fill="#1a1a1a" stroke="#1a1a1a" stroke-width="0.16">HK2</text>
<rect x="279.91" y="241.05" width="8.75" height="22.45" fill="#4c5467"/>
<rect x="288.66" y="245.54" width="8.75" height="17.96" fill="#a5062c"/>
<line x1="284.28" y1="234.76" x2="284.28" y2="248.23" stroke="#111" stroke-width="0.85"/>
<line x1="282.08" y1="234.76" x2="286.48" y2="234.76" stroke="#111" stroke-width="0.85"/>
<line x1="282.08" y1="248.23" x2="286.48" y2="248.23" stroke="#111" stroke-width="0.85"/>
<line x1="293.03" y1="241.27" x2="293.03" y2="249.13" stroke="#111" stroke-width="0.85"/>
<line x1="290.83" y1="241.27" x2="295.23" y2="241.27" stroke="#111" stroke-width="0.85"/>
<line x1="290.83" y1="249.13" x2="295.23" y2="249.13" stroke="#111" stroke-width="0.85"/>
<circle cx="286.12" cy="239.05" r="0.8" fill="#111"/>
<circle cx="293.96" cy="246.52" r="0.8" fill="#111"/>
<circle cx="283.61" cy="239.90" r="0.8" fill="#111"/>
<circle cx="294.26" cy="247.28" r="0.8" fill="#111"/>
<circle cx="282.95" cy="238.92" r="0.8" fill="#111"/>
<circle cx="291.51" cy="244.98" r="0.8" fill="#111"/>
<line x1="288.66" y1="263.50" x2="288.66" y2="266.00" stroke="#111" stroke-width="1.0"/>
<text transform="translate(291.26,274.80) rotate(-45)" font-size="8.5" text-anchor="end" font-style="italic" fill="#1a1a1a" stroke="#1a1a1a" stroke-width="0.16">PKM1</text>
<rect x="306.45" y="241.05" width="8.75" height="22.45" fill="#4c5467"/>
<rect x="315.20" y="233.64" width="8.75" height="29.86" fill="#a5062c"/>
<line x1="310.82" y1="236.34" x2="310.82" y2="244.42" stroke="#111" stroke-width="0.85"/>
<line x1="308.62" y1="236.34" x2="313.02" y2="236.34" stroke="#111" stroke-width="0.85"/>
<line x1="308.62" y1="244.42" x2="313.02" y2="244.42" stroke="#111" stroke-width="0.85"/>
<line x1="319.57" y1="228.25" x2="319.57" y2="238.58" stroke="#111" stroke-width="0.85"/>
<line x1="317.38" y1="228.25" x2="321.77" y2="228.25" stroke="#111" stroke-width="0.85"/>
<line x1="317.38" y1="238.58" x2="321.77" y2="238.58" stroke="#111" stroke-width="0.85"/>
<circle cx="312.34" cy="241.86" r="0.8" fill="#111"/>
<circle cx="320.74" cy="232.02" r="0.8" fill="#111"/>
<circle cx="310.07" cy="239.60" r="0.8" fill="#111"/>
<circle cx="318.91" cy="234.85" r="0.8" fill="#111"/>
<circle cx="310.22" cy="239.70" r="0.8" fill="#111"/>
<circle cx="318.17" cy="233.07" r="0.8" fill="#111"/>
<line x1="315.20" y1="263.50" x2="315.20" y2="266.00" stroke="#111" stroke-width="1.0"/>
<text transform="translate(317.80,274.80) rotate(-45)" font-size="8.5" text-anchor="end" font-style="italic" fill="#1a1a1a" stroke="#1a1a1a" stroke-width="0.16">PKM2</text>
<rect x="332.99" y="241.05" width="8.75" height="22.45" fill="#4c5467"/>
<rect x="341.74" y="251.83" width="8.75" height="11.67" fill="#a5062c"/>
<line x1="337.37" y1="238.81" x2="337.37" y2="242.85" stroke="#111" stroke-width="0.85"/>
<line x1="335.17" y1="238.81" x2="339.56" y2="238.81" stroke="#111" stroke-width="0.85"/>
<line x1="335.17" y1="242.85" x2="339.56" y2="242.85" stroke="#111" stroke-width="0.85"/>
<line x1="346.12" y1="248.23" x2="346.12" y2="255.19" stroke="#111" stroke-width="0.85"/>
<line x1="343.92" y1="248.23" x2="348.31" y2="248.23" stroke="#111" stroke-width="0.85"/>
<line x1="343.92" y1="255.19" x2="348.31" y2="255.19" stroke="#111" stroke-width="0.85"/>
<circle cx="338.21" cy="238.89" r="0.8" fill="#111"/>
<circle cx="344.18" cy="250.24" r="0.8" fill="#111"/>
<circle cx="338.65" cy="243.44" r="0.8" fill="#111"/>
<circle cx="347.34" cy="250.73" r="0.8" fill="#111"/>
<circle cx="336.12" cy="238.51" r="0.8" fill="#111"/>
<circle cx="345.57" cy="252.00" r="0.8" fill="#111"/>
<line x1="341.74" y1="263.50" x2="341.74" y2="266.00" stroke="#111" stroke-width="1.0"/>
<text transform="translate(344.34,274.80) rotate(-45)" font-size="8.5" text-anchor="end" font-style="italic" fill="#1a1a1a" stroke="#1a1a1a" stroke-width="0.16">PKLR</text>
<rect x="359.53" y="241.05" width="8.75" height="22.45" fill="#4c5467"/>
<rect x="368.28" y="248.23" width="8.75" height="15.27" fill="#a5062c"/>
<line x1="363.90" y1="236.56" x2="363.90" y2="244.42" stroke="#111" stroke-width="0.85"/>
<line x1="361.70" y1="236.56" x2="366.10" y2="236.56" stroke="#111" stroke-width="0.85"/>
<line x1="361.70" y1="244.42" x2="366.10" y2="244.42" stroke="#111" stroke-width="0.85"/>
<line x1="372.65" y1="245.54" x2="372.65" y2="250.48" stroke="#111" stroke-width="0.85"/>
<line x1="370.45" y1="245.54" x2="374.85" y2="245.54" stroke="#111" stroke-width="0.85"/>
<line x1="370.45" y1="250.48" x2="374.85" y2="250.48" stroke="#111" stroke-width="0.85"/>
<circle cx="362.89" cy="240.61" r="0.8" fill="#111"/>
<circle cx="374.54" cy="247.67" r="0.8" fill="#111"/>
<circle cx="363.84" cy="242.08" r="0.8" fill="#111"/>
<circle cx="371.21" cy="246.44" r="0.8" fill="#111"/>
<circle cx="364.92" cy="242.40" r="0.8" fill="#111"/>
<circle cx="373.03" cy="247.48" r="0.8" fill="#111"/>
<line x1="368.28" y1="263.50" x2="368.28" y2="266.00" stroke="#111" stroke-width="1.0"/>
<text transform="translate(370.88,274.80) rotate(-45)" font-size="8.5" text-anchor="end" font-style="italic" fill="#1a1a1a" stroke="#1a1a1a" stroke-width="0.16">LDHA</text>
<rect x="386.07" y="241.05" width="8.75" height="22.45" fill="#4c5467"/>
<rect x="394.82" y="247.34" width="8.75" height="16.16" fill="#a5062c"/>
<line x1="390.44" y1="235.44" x2="390.44" y2="245.54" stroke="#111" stroke-width="0.85"/>
<line x1="388.25" y1="235.44" x2="392.64" y2="235.44" stroke="#111" stroke-width="0.85"/>
<line x1="388.25" y1="245.54" x2="392.64" y2="245.54" stroke="#111" stroke-width="0.85"/>
<line x1="399.19" y1="245.99" x2="399.19" y2="248.46" stroke="#111" stroke-width="0.85"/>
<line x1="397.00" y1="245.99" x2="401.39" y2="245.99" stroke="#111" stroke-width="0.85"/>
<line x1="397.00" y1="248.46" x2="401.39" y2="248.46" stroke="#111" stroke-width="0.85"/>
<circle cx="388.97" cy="239.35" r="0.8" fill="#111"/>
<circle cx="400.72" cy="247.75" r="0.8" fill="#111"/>
<circle cx="389.55" cy="242.69" r="0.8" fill="#111"/>
<circle cx="397.52" cy="248.36" r="0.8" fill="#111"/>
<circle cx="389.25" cy="239.14" r="0.8" fill="#111"/>
<circle cx="397.96" cy="248.45" r="0.8" fill="#111"/>
<line x1="394.82" y1="263.50" x2="394.82" y2="266.00" stroke="#111" stroke-width="1.0"/>
<text transform="translate(397.42,274.80) rotate(-45)" font-size="8.5" text-anchor="end" fill="#1a1a1a" stroke="#1a1a1a" stroke-width="0.16">SLC16A1</text>
<rect x="412.61" y="241.05" width="8.75" height="22.45" fill="#4c5467"/>
<rect x="421.36" y="250.48" width="8.75" height="13.02" fill="#a5062c"/>
<line x1="416.99" y1="237.01" x2="416.99" y2="244.42" stroke="#111" stroke-width="0.85"/>
<line x1="414.79" y1="237.01" x2="419.19" y2="237.01" stroke="#111" stroke-width="0.85"/>
<line x1="414.79" y1="244.42" x2="419.19" y2="244.42" stroke="#111" stroke-width="0.85"/>
<line x1="425.74" y1="248.23" x2="425.74" y2="252.28" stroke="#111" stroke-width="0.85"/>
<line x1="423.54" y1="248.23" x2="427.94" y2="248.23" stroke="#111" stroke-width="0.85"/>
<line x1="423.54" y1="252.28" x2="427.94" y2="252.28" stroke="#111" stroke-width="0.85"/>
<circle cx="416.10" cy="241.27" r="0.8" fill="#111"/>
<circle cx="425.92" cy="251.91" r="0.8" fill="#111"/>
<circle cx="416.99" cy="238.59" r="0.8" fill="#111"/>
<circle cx="425.99" cy="250.41" r="0.8" fill="#111"/>
<circle cx="418.14" cy="241.31" r="0.8" fill="#111"/>
<circle cx="424.84" cy="249.26" r="0.8" fill="#111"/>
<line x1="421.36" y1="263.50" x2="421.36" y2="266.00" stroke="#111" stroke-width="1.0"/>
<text transform="translate(423.96,274.80) rotate(-45)" font-size="8.5" text-anchor="end" font-style="italic" fill="#1a1a1a" stroke="#1a1a1a" stroke-width="0.16">c-myc</text>
<rect x="439.15" y="241.05" width="8.75" height="22.45" fill="#4c5467"/>
<rect x="447.90" y="259.46" width="8.75" height="4.04" fill="#a5062c"/>
<line x1="443.52" y1="237.01" x2="443.52" y2="244.42" stroke="#111" stroke-width="0.85"/>
<line x1="441.32" y1="237.01" x2="445.72" y2="237.01" stroke="#111" stroke-width="0.85"/>
<line x1="441.32" y1="244.42" x2="445.72" y2="244.42" stroke="#111" stroke-width="0.85"/>
<line x1="452.27" y1="259.01" x2="452.27" y2="259.91" stroke="#111" stroke-width="0.85"/>
<line x1="450.07" y1="259.01" x2="454.47" y2="259.01" stroke="#111" stroke-width="0.85"/>
<line x1="450.07" y1="259.91" x2="454.47" y2="259.91" stroke="#111" stroke-width="0.85"/>
<circle cx="445.26" cy="241.65" r="0.8" fill="#111"/>
<circle cx="453.56" cy="260.37" r="0.8" fill="#111"/>
<circle cx="443.45" cy="242.27" r="0.8" fill="#111"/>
<circle cx="452.44" cy="260.99" r="0.8" fill="#111"/>
<circle cx="443.19" cy="242.04" r="0.8" fill="#111"/>
<circle cx="450.44" cy="258.33" r="0.8" fill="#111"/>
<line x1="447.90" y1="263.50" x2="447.90" y2="266.00" stroke="#111" stroke-width="1.0"/>
<text transform="translate(450.50,274.80) rotate(-45)" font-size="8.5" text-anchor="end" font-style="italic" fill="#1a1a1a" stroke="#1a1a1a" stroke-width="0.16">LSD1</text>
<path d="M178.12,230.00 V226.30 H186.88 V238.80" fill="none" stroke="#222" stroke-width="0.9"/>
<circle cx="182.50" cy="219.30" r="0.9" fill="#222"/>
<path d="M257.75,233.80 V228.20 H266.50 V248.20" fill="none" stroke="#222" stroke-width="0.9"/>
<circle cx="262.12" cy="224.30" r="0.9" fill="#222"/>
<path d="M337.37,238.10 V231.70 H346.12 V248.20" fill="none" stroke="#222" stroke-width="0.9"/>
<circle cx="340.44" cy="227.10" r="0.9" fill="#222"/>
<circle cx="343.04" cy="227.10" r="0.9" fill="#222"/>
<path d="M363.90,233.80 V229.30 H372.65 V245.00" fill="none" stroke="#222" stroke-width="0.9"/>
<circle cx="368.28" cy="225.80" r="0.9" fill="#222"/>
<path d="M416.99,235.00 V230.80 H425.74 V248.80" fill="none" stroke="#222" stroke-width="0.9"/>
<circle cx="420.06" cy="226.30" r="0.9" fill="#222"/>
<circle cx="422.66" cy="226.30" r="0.9" fill="#222"/>
<path d="M443.52,235.00 V231.30 H452.27 V258.80" fill="none" stroke="#222" stroke-width="0.9"/>
<circle cx="446.60" cy="226.30" r="0.9" fill="#222"/>
<circle cx="449.20" cy="226.30" r="0.9" fill="#222"/>
<text transform="translate(189.10,222.00)" font-size="8.25" fill="#1a1a1a" stroke="#1a1a1a" stroke-width="0.16">p = 0.011</text>
<text transform="translate(243.80,216.30)" font-size="8.25" fill="#1a1a1a" stroke="#1a1a1a" stroke-width="0.16">p = 0.026</text>
<text transform="translate(321.30,220.00)" font-size="8.25" fill="#1a1a1a" stroke="#1a1a1a" stroke-width="0.16">p = 0.0056</text>
<text transform="translate(364.30,217.60)" font-size="8.25" fill="#1a1a1a" stroke="#1a1a1a" stroke-width="0.16">p = 0.039</text>
<text transform="translate(403.30,218.80)" font-size="8.25" fill="#1a1a1a" stroke="#1a1a1a" stroke-width="0.16">p = 0.019</text>
<text transform="translate(444.70,219.40)" font-size="8.25" fill="#1a1a1a" stroke="#1a1a1a" stroke-width="0.16">p = 0.013</text>
<rect x="471.50" y="232.00" width="3.90" height="3.90" fill="#4c5467"/>
<text transform="translate(478.40,236.90)" font-size="8.2" fill="#1a1a1a" stroke="#1a1a1a" stroke-width="0.16">ctrl</text>
<rect x="471.50" y="243.30" width="3.90" height="3.90" fill="#a5062c"/>
<text transform="translate(478.40,248.10)" font-size="8.2" fill="#1a1a1a" stroke="#1a1a1a" stroke-width="0.16">LSD1 KD</text>
<text transform="translate(7.60,323.70)" font-size="13.3" font-weight="bold" fill="#000" stroke="#000" stroke-width="0.3">E</text>
<text transform="translate(76.00,342.00)" font-size="8.3" fill="#1a1a1a" stroke="#1a1a1a" stroke-width="0.16">ctrl</text>
<line x1="58.70" y1="345.40" x2="104.20" y2="345.40" stroke="#111" stroke-width="1.0"/>
<text transform="translate(113.00,341.90)" font-size="8.3" fill="#1a1a1a" stroke="#1a1a1a" stroke-width="0.16">LSD1 KD</text>
<line x1="107.70" y1="345.40" x2="153.50" y2="345.40" stroke="#111" stroke-width="1.0"/>
<text transform="translate(163.00,346.20)" font-size="8.3" fill="#1a1a1a" stroke="#1a1a1a" stroke-width="0.16">kDa</text>
<text transform="translate(25.00,361.00)" font-size="8.4" fill="#1a1a1a" stroke="#1a1a1a" stroke-width="0.16">LSD1</text>
<text transform="translate(22.10,391.40)" font-size="8.4" fill="#1a1a1a" stroke="#1a1a1a" stroke-width="0.16">GLUT1</text>
<text transform="translate(20.00,423.40) scale(0.982,1)" font-size="8.4" fill="#1a1a1a" stroke="#1a1a1a" stroke-width="0.16">β-tubulin</text>
<line x1="157.30" y1="360.20" x2="160.20" y2="360.20" stroke="#111" stroke-width="1.0"/>
<text transform="translate(163.50,363.20)" font-size="8.4" fill="#1a1a1a" stroke="#1a1a1a" stroke-width="0.16">100</text>
<line x1="157.30" y1="381.50" x2="160.20" y2="381.50" stroke="#111" stroke-width="1.0"/>
<text transform="translate(163.50,384.50)" font-size="8.4" fill="#1a1a1a" stroke="#1a1a1a" stroke-width="0.16">60</text>
<line x1="157.30" y1="396.30" x2="160.20" y2="396.30" stroke="#111" stroke-width="1.0"/>
<text transform="translate(163.50,399.30)" font-size="8.4" fill="#1a1a1a" stroke="#1a1a1a" stroke-width="0.16">50</text>
<line x1="157.30" y1="422.70" x2="160.20" y2="422.70" stroke="#111" stroke-width="1.0"/>
<text transform="translate(163.50,425.70)" font-size="8.4" fill="#1a1a1a" stroke="#1a1a1a" stroke-width="0.16">50</text>
<rect x="56.30" y="349.00" width="99.30" height="17.50" fill="#f3f3f3" stroke="#151515" stroke-width="1.4"/>
<rect x="62.70" y="354.4" width="14.10" height="3.2" rx="1.4" fill="#303030" filter="url(#bl06)"/>
<rect x="62.70" y="359.00" width="14.10" height="3.0" rx="1.3" fill="#2a2a2a" filter="url(#bl06)"/>
<rect x="78.20" y="354.4" width="13.60" height="3.2" rx="1.4" fill="#262626" filter="url(#bl06)"/>
<rect x="78.20" y="359.00" width="13.60" height="3.0" rx="1.3" fill="#1a1a1a" filter="url(#bl06)"/>
<rect x="93.00" y="354.4" width="12.30" height="3.2" rx="1.4" fill="#1e1e1e" filter="url(#bl06)"/>
<rect x="93.00" y="359.00" width="12.30" height="3.0" rx="1.3" fill="#222" filter="url(#bl06)"/>
<rect x="106.70" y="354.4" width="13.60" height="3.2" rx="1.4" fill="#a2a2a2" filter="url(#bl06)"/>
<rect x="106.70" y="359.40" width="13.60" height="3.0" rx="1.3" fill="#2e2e2e" filter="url(#bl06)"/>
<rect x="121.20" y="354.4" width="13.80" height="3.2" rx="1.4" fill="#aaaaaa" filter="url(#bl06)"/>
<rect x="121.20" y="359.40" width="13.80" height="3.0" rx="1.3" fill="#303030" filter="url(#bl06)"/>
<rect x="136.00" y="354.4" width="14.30" height="3.2" rx="1.4" fill="#a0a0a0" filter="url(#bl06)"/>
<rect x="136.00" y="359.40" width="14.30" height="3.0" rx="1.3" fill="#2c2c2c" filter="url(#bl06)"/>
<rect x="56.30" y="368.80" width="99.30" height="44.80" fill="#525252" stroke="#151515" stroke-width="1.4"/>
<rect x="57.30" y="399.5" width="97.30" height="13.4" fill="#646464" filter="url(#bl2)"/>
<rect x="57.50" y="370" width="4.5" height="42" fill="#747474" filter="url(#bl)"/>
<rect x="61.90" y="368.5" width="15.70" height="29.0" rx="3" fill="#0c0c0c" filter="url(#bl15)"/>
<rect x="63.00" y="394.80" width="13.50" height="5" rx="2" fill="#3a3a3a" filter="url(#bl15)"/>
<rect x="77.40" y="368.5" width="15.20" height="29.0" rx="3" fill="#0c0c0c" filter="url(#bl15)"/>
<rect x="78.50" y="394.80" width="13.00" height="5" rx="2" fill="#3a3a3a" filter="url(#bl15)"/>
<rect x="92.20" y="368.5" width="13.90" height="36.5" rx="3" fill="#0c0c0c" filter="url(#bl15)"/>
<rect x="93.30" y="402.30" width="11.70" height="5" rx="2" fill="#3a3a3a" filter="url(#bl15)"/>
<rect x="107.00" y="370.5" width="13.00" height="27" fill="#464646" filter="url(#bl2)"/>
<rect x="107.00" y="394.4" width="13.00" height="2.8" rx="1" fill="#2c2c2c" filter="url(#bl09)"/>
<rect x="121.50" y="370.5" width="13.20" height="27" fill="#464646" filter="url(#bl2)"/>
<rect x="121.50" y="394.4" width="13.20" height="2.8" rx="1" fill="#2c2c2c" filter="url(#bl09)"/>
<rect x="136.30" y="370.5" width="13.70" height="27" fill="#464646" filter="url(#bl2)"/>
<rect x="136.30" y="394.4" width="13.70" height="2.8" rx="1" fill="#2c2c2c" filter="url(#bl09)"/>
<rect x="76.90" y="370" width="1.2" height="26" fill="#2a2a2a" filter="url(#bl)"/>
<rect x="91.80" y="370" width="1.2" height="26" fill="#2a2a2a" filter="url(#bl)"/>
<rect x="56.30" y="413.60" width="99.30" height="2.30" fill="#8a8a8a"/>
<circle cx="155.60" cy="396.30" r="1.1" fill="#000"/>
<rect x="56.30" y="416.20" width="99.30" height="11.90" fill="#e6e6e6" stroke="#151515" stroke-width="1.4"/>
<rect x="57.30" y="423.5" width="97.30" height="4" fill="#f2f2f2" filter="url(#bl)"/>
<rect x="58.8" y="421.3" width="92.5" height="2.0" rx="1" fill="#222" filter="url(#bl)"/>
<ellipse cx="70" cy="422.4" rx="5.5" ry="1.0" fill="#0a0a0a" filter="url(#bl)"/>
<ellipse cx="84" cy="422.4" rx="5.5" ry="1.0" fill="#0a0a0a" filter="url(#bl)"/>
<ellipse cx="98" cy="422.4" rx="5.5" ry="1.0" fill="#0a0a0a" filter="url(#bl)"/>
<ellipse cx="112" cy="422.4" rx="5.5" ry="1.0" fill="#0a0a0a" filter="url(#bl)"/>
<ellipse cx="126" cy="422.4" rx="5.5" ry="1.0" fill="#0a0a0a" filter="url(#bl)"/>
<ellipse cx="140" cy="422.4" rx="5.5" ry="1.0" fill="#0a0a0a" filter="url(#bl)"/>
<text transform="translate(195.60,323.30)" font-size="13.3" font-weight="bold" fill="#000" stroke="#000" stroke-width="0.3">F</text>
<line x1="240.40" y1="344.00" x2="240.40" y2="425.10" stroke="#111" stroke-width="1.1"/>
<line x1="237.50" y1="424.60" x2="281.70" y2="424.60" stroke="#111" stroke-width="1.1"/>
<line x1="237.00" y1="424.60" x2="240.40" y2="424.60" stroke="#111" stroke-width="1.0"/>
<text transform="translate(233.30,427.60)" font-size="8.5" text-anchor="end" fill="#1a1a1a" stroke="#1a1a1a" stroke-width="0.16">0</text>
<line x1="237.00" y1="388.00" x2="240.40" y2="388.00" stroke="#111" stroke-width="1.0"/>
<text transform="translate(233.30,391.00)" font-size="8.5" text-anchor="end" fill="#1a1a1a" stroke="#1a1a1a" stroke-width="0.16">0.5</text>
<line x1="237.00" y1="351.40" x2="240.40" y2="351.40" stroke="#111" stroke-width="1.0"/>
<text transform="translate(233.30,354.40)" font-size="8.5" text-anchor="end" fill="#1a1a1a" stroke="#1a1a1a" stroke-width="0.16">1</text>
<line x1="238.00" y1="406.30" x2="240.40" y2="406.30" stroke="#111" stroke-width="1.0"/>
<line x1="238.00" y1="369.70" x2="240.40" y2="369.70" stroke="#111" stroke-width="1.0"/>
<line x1="261.20" y1="424.60" x2="261.20" y2="427.40" stroke="#111" stroke-width="1.0"/>
<rect x="244.80" y="351.40" width="9.10" height="73.20" fill="#4c5467"/>
<rect x="267.90" y="369.70" width="9.10" height="54.90" fill="#a5062c"/>
<circle cx="246.75" cy="351.40" r="1.1" fill="#111"/>
<circle cx="249.35" cy="351.40" r="1.1" fill="#111"/>
<circle cx="251.95" cy="351.40" r="1.1" fill="#111"/>
<circle cx="269.85" cy="369.70" r="1.1" fill="#111"/>
<circle cx="272.45" cy="369.70" r="1.1" fill="#111"/>
<circle cx="275.05" cy="369.70" r="1.1" fill="#111"/>
<path d="M249.3,347.6 V343.4 H272.9 V364.5" fill="none" stroke="#222" stroke-width="0.9"/>
<text transform="translate(234.40,340.20)" font-size="8.3" fill="#1a1a1a" stroke="#1a1a1a" stroke-width="0.16">** p = 1.3x 10<tspan dy="-3.15" font-size="5.64">-6</tspan><tspan dy="3.15"></tspan></text>
<text transform="translate(216.20,421.60) rotate(-90) scale(0.704,1)" font-size="10" fill="#1a1a1a" stroke="#1a1a1a" stroke-width="0.42">Relative glucose uptake</text>
<text transform="translate(249.50,438.50)" font-size="8.3" text-anchor="middle" fill="#1a1a1a" stroke="#1a1a1a" stroke-width="0.16">ctrl</text>
<text transform="translate(272.10,438.50)" font-size="8.3" text-anchor="middle" fill="#1a1a1a" stroke="#1a1a1a" stroke-width="0.16">LSD1</text>
<text transform="translate(272.90,449.00)" font-size="8.3" text-anchor="middle" fill="#1a1a1a" stroke="#1a1a1a" stroke-width="0.16">KD</text>
<text transform="translate(305.00,323.20)" font-size="13.3" font-weight="bold" fill="#000" stroke="#000" stroke-width="0.3">G</text>
<line x1="354.60" y1="342.00" x2="354.60" y2="425.50" stroke="#111" stroke-width="1.1"/>
<line x1="354.10" y1="425.00" x2="454.40" y2="425.00" stroke="#111" stroke-width="1.1"/>
<line x1="351.40" y1="425.00" x2="354.60" y2="425.00" stroke="#111" stroke-width="1.0"/>
<text transform="translate(348.30,428.00)" font-size="8.5" text-anchor="end" fill="#1a1a1a" stroke="#1a1a1a" stroke-width="0.16">0</text>
<line x1="351.40" y1="404.93" x2="354.60" y2="404.93" stroke="#111" stroke-width="1.0"/>
<text transform="translate(348.30,407.93)" font-size="8.5" text-anchor="end" fill="#1a1a1a" stroke="#1a1a1a" stroke-width="0.16">50</text>
<line x1="351.40" y1="384.85" x2="354.60" y2="384.85" stroke="#111" stroke-width="1.0"/>
<text transform="translate(348.30,387.85)" font-size="8.5" text-anchor="end" fill="#1a1a1a" stroke="#1a1a1a" stroke-width="0.16">100</text>
<line x1="351.40" y1="364.77" x2="354.60" y2="364.77" stroke="#111" stroke-width="1.0"/>
<text transform="translate(348.30,367.77)" font-size="8.5" text-anchor="end" fill="#1a1a1a" stroke="#1a1a1a" stroke-width="0.16">150</text>
<line x1="351.40" y1="344.70" x2="354.60" y2="344.70" stroke="#111" stroke-width="1.0"/>
<text transform="translate(348.30,347.70)" font-size="8.5" text-anchor="end" fill="#1a1a1a" stroke="#1a1a1a" stroke-width="0.16">200</text>
<line x1="375.80" y1="425.00" x2="375.80" y2="427.60" stroke="#111" stroke-width="1.0"/>
<text transform="translate(375.80,438.60)" font-size="8.5" text-anchor="middle" fill="#1a1a1a" stroke="#1a1a1a" stroke-width="0.16">20</text>
<line x1="396.60" y1="425.00" x2="396.60" y2="427.60" stroke="#111" stroke-width="1.0"/>
<text transform="translate(396.60,438.60)" font-size="8.5" text-anchor="middle" fill="#1a1a1a" stroke="#1a1a1a" stroke-width="0.16">40</text>
<line x1="417.40" y1="425.00" x2="417.40" y2="427.60" stroke="#111" stroke-width="1.0"/>
<text transform="translate(417.40,438.60)" font-size="8.5" text-anchor="middle" fill="#1a1a1a" stroke="#1a1a1a" stroke-width="0.16">60</text>
<line x1="438.20" y1="425.00" x2="438.20" y2="427.60" stroke="#111" stroke-width="1.0"/>
<text transform="translate(438.20,438.60)" font-size="8.5" text-anchor="middle" fill="#1a1a1a" stroke="#1a1a1a" stroke-width="0.16">80</text>
<text transform="translate(449.00,438.60)" font-size="8.5" fill="#1a1a1a" stroke="#1a1a1a" stroke-width="0.16">(min)</text>
<text transform="translate(327.20,411.70) rotate(-90) scale(0.729,1)" font-size="10" fill="#1a1a1a" stroke="#1a1a1a" stroke-width="0.42">ECAR (mpH/min)</text>
<text transform="translate(371.00,334.00)" font-size="8.45" fill="#1a1a1a" stroke="#1a1a1a" stroke-width="0.16">Glucose</text>
<text transform="translate(410.00,334.00)" font-size="8.45" fill="#1a1a1a" stroke="#1a1a1a" stroke-width="0.16">2-DG</text>
<path d="M383.70,338.2 L389.30,338.2 L386.50,343.0 Z" fill="#111"/>
<line x1="386.50" y1="343.00" x2="386.50" y2="425.00" stroke="#222" stroke-width="1.0" stroke-dasharray="3.2 1.8"/>
<path d="M416.80,338.2 L422.40,338.2 L419.60,343.0 Z" fill="#111"/>
<line x1="419.60" y1="343.00" x2="419.60" y2="425.00" stroke="#222" stroke-width="1.0" stroke-dasharray="3.2 1.8"/>
<line x1="359.16" y1="414.16" x2="359.16" y2="410.95" stroke="#333" stroke-width="0.8"/>
<line x1="357.46" y1="410.95" x2="360.86" y2="410.95" stroke="#333" stroke-width="0.8"/>
<line x1="359.16" y1="420.18" x2="359.16" y2="421.39" stroke="#333" stroke-width="0.8"/>
<line x1="357.46" y1="421.39" x2="360.86" y2="421.39" stroke="#333" stroke-width="0.8"/>
<circle cx="359.16" cy="416.98" r="0.7" fill="#333"/>
<line x1="367.48" y1="414.96" x2="367.48" y2="412.15" stroke="#333" stroke-width="0.8"/>
<line x1="365.78" y1="412.15" x2="369.18" y2="412.15" stroke="#333" stroke-width="0.8"/>
<line x1="367.48" y1="420.38" x2="367.48" y2="421.59" stroke="#333" stroke-width="0.8"/>
<line x1="365.78" y1="421.59" x2="369.18" y2="421.59" stroke="#333" stroke-width="0.8"/>
<circle cx="367.48" cy="417.18" r="0.7" fill="#333"/>
<line x1="375.80" y1="415.56" x2="375.80" y2="413.16" stroke="#333" stroke-width="0.8"/>
<line x1="374.10" y1="413.16" x2="377.50" y2="413.16" stroke="#333" stroke-width="0.8"/>
<line x1="375.80" y1="420.58" x2="375.80" y2="421.79" stroke="#333" stroke-width="0.8"/>
<line x1="374.10" y1="421.79" x2="377.50" y2="421.79" stroke="#333" stroke-width="0.8"/>
<circle cx="375.80" cy="417.38" r="0.7" fill="#333"/>
<line x1="384.12" y1="416.37" x2="384.12" y2="414.36" stroke="#333" stroke-width="0.8"/>
<line x1="382.42" y1="414.36" x2="385.82" y2="414.36" stroke="#333" stroke-width="0.8"/>
<line x1="384.12" y1="421.19" x2="384.12" y2="422.39" stroke="#333" stroke-width="0.8"/>
<line x1="382.42" y1="422.39" x2="385.82" y2="422.39" stroke="#333" stroke-width="0.8"/>
<circle cx="384.12" cy="417.99" r="0.7" fill="#333"/>
<line x1="392.44" y1="367.59" x2="392.44" y2="362.77" stroke="#333" stroke-width="0.8"/>
<line x1="390.74" y1="362.77" x2="394.14" y2="362.77" stroke="#333" stroke-width="0.8"/>
<line x1="392.44" y1="397.30" x2="392.44" y2="407.33" stroke="#333" stroke-width="0.8"/>
<line x1="390.74" y1="407.33" x2="394.14" y2="407.33" stroke="#333" stroke-width="0.8"/>
<circle cx="392.44" cy="392.70" r="0.75" fill="#333"/>
<line x1="400.76" y1="365.58" x2="400.76" y2="363.17" stroke="#333" stroke-width="0.8"/>
<line x1="399.06" y1="363.17" x2="402.46" y2="363.17" stroke="#333" stroke-width="0.8"/>
<line x1="400.76" y1="395.69" x2="400.76" y2="407.74" stroke="#333" stroke-width="0.8"/>
<line x1="399.06" y1="407.74" x2="402.46" y2="407.74" stroke="#333" stroke-width="0.8"/>
<circle cx="400.76" cy="391.09" r="0.75" fill="#333"/>
<line x1="409.08" y1="367.59" x2="409.08" y2="365.58" stroke="#333" stroke-width="0.8"/>
<line x1="407.38" y1="365.58" x2="410.78" y2="365.58" stroke="#333" stroke-width="0.8"/>
<line x1="409.08" y1="395.69" x2="409.08" y2="407.74" stroke="#333" stroke-width="0.8"/>
<line x1="407.38" y1="407.74" x2="410.78" y2="407.74" stroke="#333" stroke-width="0.8"/>
<circle cx="409.08" cy="391.09" r="0.75" fill="#333"/>
<line x1="417.40" y1="369.59" x2="417.40" y2="367.18" stroke="#333" stroke-width="0.8"/>
<line x1="415.70" y1="367.18" x2="419.10" y2="367.18" stroke="#333" stroke-width="0.8"/>
<line x1="417.40" y1="396.49" x2="417.40" y2="408.54" stroke="#333" stroke-width="0.8"/>
<line x1="415.70" y1="408.54" x2="419.10" y2="408.54" stroke="#333" stroke-width="0.8"/>
<circle cx="417.40" cy="391.89" r="0.75" fill="#333"/>
<line x1="425.72" y1="402.11" x2="425.72" y2="400.11" stroke="#333" stroke-width="0.8"/>
<line x1="424.02" y1="400.11" x2="427.42" y2="400.11" stroke="#333" stroke-width="0.8"/>
<line x1="425.72" y1="413.76" x2="425.72" y2="416.17" stroke="#333" stroke-width="0.8"/>
<line x1="424.02" y1="416.17" x2="427.42" y2="416.17" stroke="#333" stroke-width="0.8"/>
<circle cx="425.72" cy="409.26" r="0.75" fill="#333"/>
<line x1="434.04" y1="407.33" x2="434.04" y2="405.73" stroke="#333" stroke-width="0.8"/>
<line x1="432.34" y1="405.73" x2="435.74" y2="405.73" stroke="#333" stroke-width="0.8"/>
<line x1="434.04" y1="416.17" x2="434.04" y2="418.17" stroke="#333" stroke-width="0.8"/>
<line x1="432.34" y1="418.17" x2="435.74" y2="418.17" stroke="#333" stroke-width="0.8"/>
<circle cx="434.04" cy="411.67" r="0.75" fill="#333"/>
<line x1="442.36" y1="409.34" x2="442.36" y2="408.14" stroke="#333" stroke-width="0.8"/>
<line x1="440.66" y1="408.14" x2="444.06" y2="408.14" stroke="#333" stroke-width="0.8"/>
<line x1="442.36" y1="418.17" x2="442.36" y2="420.18" stroke="#333" stroke-width="0.8"/>
<line x1="440.66" y1="420.18" x2="444.06" y2="420.18" stroke="#333" stroke-width="0.8"/>
<circle cx="442.36" cy="413.67" r="0.75" fill="#333"/>
<line x1="450.68" y1="410.14" x2="450.68" y2="408.94" stroke="#333" stroke-width="0.8"/>
<line x1="448.98" y1="408.94" x2="452.38" y2="408.94" stroke="#333" stroke-width="0.8"/>
<line x1="450.68" y1="418.98" x2="450.68" y2="420.99" stroke="#333" stroke-width="0.8"/>
<line x1="448.98" y1="420.99" x2="452.38" y2="420.99" stroke="#333" stroke-width="0.8"/>
<circle cx="450.68" cy="414.48" r="0.75" fill="#333"/>
<polyline fill="none" stroke="#56627e" stroke-width="1.5" points="359.16,414.16 367.48,414.96 375.80,415.56 384.12,416.37 392.44,367.59 400.76,365.58 409.08,367.59 417.40,369.59 425.72,402.11 434.04,407.33 442.36,409.34 450.68,410.14"/>
<polyline fill="none" stroke="#b0102e" stroke-width="1.5" points="359.16,420.18 367.48,420.38 375.80,420.58 384.12,421.19 392.44,397.30 400.76,395.69 409.08,395.69 417.40,396.49 425.72,413.76 434.04,416.17 442.36,418.17 450.68,418.98"/>
<rect x="463.80" y="372.00" width="3.90" height="3.90" fill="#4c5467"/>
<text transform="translate(470.80,376.80)" font-size="8.2" fill="#1a1a1a" stroke="#1a1a1a" stroke-width="0.16">ctrl</text>
<rect x="463.80" y="383.00" width="3.90" height="3.90" fill="#a5062c"/>
<text transform="translate(470.80,388.00)" font-size="8.2" fill="#1a1a1a" stroke="#1a1a1a" stroke-width="0.16">LSD1 KD</text>
<text transform="translate(8.80,472.50)" font-size="13.3" font-weight="bold" fill="#000" stroke="#000" stroke-width="0.3">H</text>
<text transform="translate(189.70,484.50)" font-size="10.2" fill="#1a1a1a" stroke="#1a1a1a" stroke-width="0.16">HEL</text>
<line x1="53.80" y1="490.90" x2="53.80" y2="555.90" stroke="#111" stroke-width="1.1"/>
<line x1="53.30" y1="555.40" x2="345.80" y2="555.40" stroke="#111" stroke-width="1.1"/>
<line x1="50.70" y1="555.40" x2="53.80" y2="555.40" stroke="#111" stroke-width="1.0"/>
<text transform="translate(47.60,558.40)" font-size="8.5" text-anchor="end" fill="#1a1a1a" stroke="#1a1a1a" stroke-width="0.16">0</text>
<line x1="50.70" y1="543.05" x2="53.80" y2="543.05" stroke="#111" stroke-width="1.0"/>
<text transform="translate(47.60,546.05)" font-size="8.5" text-anchor="end" fill="#1a1a1a" stroke="#1a1a1a" stroke-width="0.16">0.5</text>
<line x1="50.70" y1="530.70" x2="53.80" y2="530.70" stroke="#111" stroke-width="1.0"/>
<text transform="translate(47.60,533.70)" font-size="8.5" text-anchor="end" fill="#1a1a1a" stroke="#1a1a1a" stroke-width="0.16">1</text>
<line x1="50.70" y1="518.35" x2="53.80" y2="518.35" stroke="#111" stroke-width="1.0"/>
<text transform="translate(47.60,521.35)" font-size="8.5" text-anchor="end" fill="#1a1a1a" stroke="#1a1a1a" stroke-width="0.16">1.5</text>
<line x1="50.70" y1="506.00" x2="53.80" y2="506.00" stroke="#111" stroke-width="1.0"/>
<text transform="translate(47.60,509.00)" font-size="8.5" text-anchor="end" fill="#1a1a1a" stroke="#1a1a1a" stroke-width="0.16">2</text>
<line x1="50.70" y1="493.65" x2="53.80" y2="493.65" stroke="#111" stroke-width="1.0"/>
<text transform="translate(47.60,496.65)" font-size="8.5" text-anchor="end" fill="#1a1a1a" stroke="#1a1a1a" stroke-width="0.16">2.5</text>
<text transform="translate(29.40,553.60) rotate(-90) scale(0.701,1)" font-size="10" fill="#1a1a1a" stroke="#1a1a1a" stroke-width="0.42">Relative expression</text>
<rect x="58.05" y="530.70" width="6.97" height="24.70" fill="#4c5467"/>
<rect x="65.02" y="545.52" width="6.97" height="9.88" fill="#e08b16"/>
<rect x="71.99" y="548.48" width="6.97" height="6.92" fill="#50206a"/>
<line x1="61.53" y1="526.01" x2="61.53" y2="534.40" stroke="#111" stroke-width="0.85"/>
<line x1="59.63" y1="526.01" x2="63.43" y2="526.01" stroke="#111" stroke-width="0.85"/>
<line x1="59.63" y1="534.40" x2="63.43" y2="534.40" stroke="#111" stroke-width="0.85"/>
<circle cx="61.82" cy="531.61" r="0.75" fill="#111"/>
<circle cx="60.03" cy="531.60" r="0.75" fill="#111"/>
<circle cx="62.50" cy="531.15" r="0.75" fill="#111"/>
<line x1="68.50" y1="541.07" x2="68.50" y2="549.23" stroke="#111" stroke-width="0.85"/>
<line x1="66.60" y1="541.07" x2="70.40" y2="541.07" stroke="#111" stroke-width="0.85"/>
<line x1="66.60" y1="549.23" x2="70.40" y2="549.23" stroke="#111" stroke-width="0.85"/>
<circle cx="68.20" cy="543.81" r="0.75" fill="#111"/>
<circle cx="68.48" cy="545.75" r="0.75" fill="#111"/>
<circle cx="67.71" cy="544.56" r="0.75" fill="#111"/>
<line x1="75.47" y1="547.99" x2="75.47" y2="549.23" stroke="#111" stroke-width="0.85"/>
<line x1="73.57" y1="547.99" x2="77.37" y2="547.99" stroke="#111" stroke-width="0.85"/>
<line x1="73.57" y1="549.23" x2="77.37" y2="549.23" stroke="#111" stroke-width="0.85"/>
<circle cx="76.87" cy="548.45" r="0.75" fill="#111"/>
<circle cx="75.63" cy="548.51" r="0.75" fill="#111"/>
<circle cx="74.54" cy="548.88" r="0.75" fill="#111"/>
<line x1="68.50" y1="555.40" x2="68.50" y2="557.90" stroke="#111" stroke-width="1.0"/>
<text transform="translate(70.70,566.30) rotate(-45)" font-size="8.5" text-anchor="end" font-style="italic" fill="#1a1a1a" stroke="#1a1a1a" stroke-width="0.16">GLUT1</text>
<rect x="87.05" y="530.70" width="6.97" height="24.70" fill="#4c5467"/>
<rect x="94.02" y="536.13" width="6.97" height="19.27" fill="#e08b16"/>
<rect x="100.99" y="537.62" width="6.97" height="17.78" fill="#50206a"/>
<line x1="90.53" y1="514.89" x2="90.53" y2="545.52" stroke="#111" stroke-width="0.85"/>
<line x1="88.63" y1="514.89" x2="92.43" y2="514.89" stroke="#111" stroke-width="0.85"/>
<line x1="88.63" y1="545.52" x2="92.43" y2="545.52" stroke="#111" stroke-width="0.85"/>
<circle cx="89.12" cy="520.65" r="0.75" fill="#111"/>
<circle cx="89.61" cy="520.10" r="0.75" fill="#111"/>
<circle cx="91.87" cy="535.87" r="0.75" fill="#111"/>
<line x1="97.50" y1="517.12" x2="97.50" y2="553.42" stroke="#111" stroke-width="0.85"/>
<line x1="95.60" y1="517.12" x2="99.40" y2="517.12" stroke="#111" stroke-width="0.85"/>
<line x1="95.60" y1="553.42" x2="99.40" y2="553.42" stroke="#111" stroke-width="0.85"/>
<circle cx="96.40" cy="537.99" r="0.75" fill="#111"/>
<circle cx="98.56" cy="537.37" r="0.75" fill="#111"/>
<circle cx="96.70" cy="531.85" r="0.75" fill="#111"/>
<line x1="104.47" y1="520.08" x2="104.47" y2="553.42" stroke="#111" stroke-width="0.85"/>
<line x1="102.57" y1="520.08" x2="106.37" y2="520.08" stroke="#111" stroke-width="0.85"/>
<line x1="102.57" y1="553.42" x2="106.37" y2="553.42" stroke="#111" stroke-width="0.85"/>
<circle cx="103.52" cy="536.06" r="0.75" fill="#111"/>
<circle cx="104.86" cy="542.67" r="0.75" fill="#111"/>
<circle cx="103.49" cy="531.18" r="0.75" fill="#111"/>
<line x1="97.50" y1="555.40" x2="97.50" y2="557.90" stroke="#111" stroke-width="1.0"/>
<text transform="translate(99.70,566.30) rotate(-45)" font-size="8.5" text-anchor="end" font-style="italic" fill="#1a1a1a" stroke="#1a1a1a" stroke-width="0.16">GLUT3</text>
<rect x="116.05" y="530.70" width="6.97" height="24.70" fill="#4c5467"/>
<rect x="123.02" y="534.40" width="6.97" height="20.99" fill="#e08b16"/>
<rect x="129.99" y="533.66" width="6.97" height="21.74" fill="#50206a"/>
<line x1="119.53" y1="519.34" x2="119.53" y2="542.31" stroke="#111" stroke-width="0.85"/>
<line x1="117.63" y1="519.34" x2="121.43" y2="519.34" stroke="#111" stroke-width="0.85"/>
<line x1="117.63" y1="542.31" x2="121.43" y2="542.31" stroke="#111" stroke-width="0.85"/>
<circle cx="119.32" cy="530.30" r="0.75" fill="#111"/>
<circle cx="118.60" cy="526.46" r="0.75" fill="#111"/>
<circle cx="118.66" cy="527.10" r="0.75" fill="#111"/>
<line x1="126.50" y1="526.25" x2="126.50" y2="540.83" stroke="#111" stroke-width="0.85"/>
<line x1="124.60" y1="526.25" x2="128.40" y2="526.25" stroke="#111" stroke-width="0.85"/>
<line x1="124.60" y1="540.83" x2="128.40" y2="540.83" stroke="#111" stroke-width="0.85"/>
<circle cx="126.91" cy="536.44" r="0.75" fill="#111"/>
<circle cx="127.08" cy="534.20" r="0.75" fill="#111"/>
<circle cx="126.28" cy="539.30" r="0.75" fill="#111"/>
<line x1="133.47" y1="532.18" x2="133.47" y2="534.40" stroke="#111" stroke-width="0.85"/>
<line x1="131.57" y1="532.18" x2="135.37" y2="532.18" stroke="#111" stroke-width="0.85"/>
<line x1="131.57" y1="534.40" x2="135.37" y2="534.40" stroke="#111" stroke-width="0.85"/>
<circle cx="132.53" cy="532.94" r="0.75" fill="#111"/>
<circle cx="133.04" cy="533.19" r="0.75" fill="#111"/>
<circle cx="132.77" cy="533.76" r="0.75" fill="#111"/>
<line x1="126.50" y1="555.40" x2="126.50" y2="557.90" stroke="#111" stroke-width="1.0"/>
<text transform="translate(128.70,566.30) rotate(-45)" font-size="8.5" text-anchor="end" font-style="italic" fill="#1a1a1a" stroke="#1a1a1a" stroke-width="0.16">HK1</text>
<rect x="145.05" y="530.70" width="6.97" height="24.70" fill="#4c5467"/>
<rect x="152.02" y="533.42" width="6.97" height="21.98" fill="#e08b16"/>
<rect x="158.99" y="533.17" width="6.97" height="22.23" fill="#50206a"/>
<line x1="148.53" y1="521.07" x2="148.53" y2="541.32" stroke="#111" stroke-width="0.85"/>
<line x1="146.63" y1="521.07" x2="150.43" y2="521.07" stroke="#111" stroke-width="0.85"/>
<line x1="146.63" y1="541.32" x2="150.43" y2="541.32" stroke="#111" stroke-width="0.85"/>
<circle cx="147.22" cy="537.78" r="0.75" fill="#111"/>
<circle cx="147.62" cy="525.09" r="0.75" fill="#111"/>
<circle cx="147.64" cy="527.47" r="0.75" fill="#111"/>
<line x1="155.50" y1="523.04" x2="155.50" y2="545.52" stroke="#111" stroke-width="0.85"/>
<line x1="153.60" y1="523.04" x2="157.40" y2="523.04" stroke="#111" stroke-width="0.85"/>
<line x1="153.60" y1="545.52" x2="157.40" y2="545.52" stroke="#111" stroke-width="0.85"/>
<circle cx="155.65" cy="538.31" r="0.75" fill="#111"/>
<circle cx="154.78" cy="536.77" r="0.75" fill="#111"/>
<circle cx="155.76" cy="527.63" r="0.75" fill="#111"/>
<line x1="162.47" y1="518.60" x2="162.47" y2="547.25" stroke="#111" stroke-width="0.85"/>
<line x1="160.57" y1="518.60" x2="164.37" y2="518.60" stroke="#111" stroke-width="0.85"/>
<line x1="160.57" y1="547.25" x2="164.37" y2="547.25" stroke="#111" stroke-width="0.85"/>
<circle cx="163.43" cy="538.04" r="0.75" fill="#111"/>
<circle cx="161.18" cy="534.46" r="0.75" fill="#111"/>
<circle cx="163.88" cy="540.10" r="0.75" fill="#111"/>
<line x1="155.50" y1="555.40" x2="155.50" y2="557.90" stroke="#111" stroke-width="1.0"/>
<text transform="translate(157.70,566.30) rotate(-45)" font-size="8.5" text-anchor="end" font-style="italic" fill="#1a1a1a" stroke="#1a1a1a" stroke-width="0.16">HK2</text>
<rect x="174.05" y="530.70" width="6.97" height="24.70" fill="#4c5467"/>
<rect x="181.02" y="529.96" width="6.97" height="25.44" fill="#e08b16"/>
<rect x="187.99" y="527.24" width="6.97" height="28.16" fill="#50206a"/>
<line x1="177.53" y1="514.64" x2="177.53" y2="546.75" stroke="#111" stroke-width="0.85"/>
<line x1="175.63" y1="514.64" x2="179.43" y2="514.64" stroke="#111" stroke-width="0.85"/>
<line x1="175.63" y1="546.75" x2="179.43" y2="546.75" stroke="#111" stroke-width="0.85"/>
<circle cx="177.98" cy="527.18" r="0.75" fill="#111"/>
<circle cx="176.13" cy="538.61" r="0.75" fill="#111"/>
<circle cx="178.94" cy="537.61" r="0.75" fill="#111"/>
<line x1="184.50" y1="518.10" x2="184.50" y2="542.56" stroke="#111" stroke-width="0.85"/>
<line x1="182.60" y1="518.10" x2="186.40" y2="518.10" stroke="#111" stroke-width="0.85"/>
<line x1="182.60" y1="542.56" x2="186.40" y2="542.56" stroke="#111" stroke-width="0.85"/>
<circle cx="184.69" cy="521.93" r="0.75" fill="#111"/>
<circle cx="184.28" cy="523.59" r="0.75" fill="#111"/>
<circle cx="183.58" cy="536.12" r="0.75" fill="#111"/>
<line x1="191.47" y1="514.64" x2="191.47" y2="541.57" stroke="#111" stroke-width="0.85"/>
<line x1="189.57" y1="514.64" x2="193.37" y2="514.64" stroke="#111" stroke-width="0.85"/>
<line x1="189.57" y1="541.57" x2="193.37" y2="541.57" stroke="#111" stroke-width="0.85"/>
<circle cx="190.56" cy="534.56" r="0.75" fill="#111"/>
<circle cx="189.98" cy="524.83" r="0.75" fill="#111"/>
<circle cx="190.67" cy="532.75" r="0.75" fill="#111"/>
<line x1="184.50" y1="555.40" x2="184.50" y2="557.90" stroke="#111" stroke-width="1.0"/>
<text transform="translate(186.70,566.30) rotate(-45)" font-size="8.5" text-anchor="end" font-style="italic" fill="#1a1a1a" stroke="#1a1a1a" stroke-width="0.16">PKM1</text>
<rect x="203.05" y="530.70" width="6.97" height="24.70" fill="#4c5467"/>
<rect x="210.02" y="524.52" width="6.97" height="30.88" fill="#e08b16"/>
<rect x="216.99" y="519.09" width="6.97" height="36.31" fill="#50206a"/>
<line x1="206.53" y1="511.19" x2="206.53" y2="550.21" stroke="#111" stroke-width="0.85"/>
<line x1="204.63" y1="511.19" x2="208.43" y2="511.19" stroke="#111" stroke-width="0.85"/>
<line x1="204.63" y1="550.21" x2="208.43" y2="550.21" stroke="#111" stroke-width="0.85"/>
<circle cx="206.26" cy="533.05" r="0.75" fill="#111"/>
<circle cx="205.08" cy="528.40" r="0.75" fill="#111"/>
<circle cx="205.18" cy="540.11" r="0.75" fill="#111"/>
<line x1="213.50" y1="504.76" x2="213.50" y2="542.56" stroke="#111" stroke-width="0.85"/>
<line x1="211.60" y1="504.76" x2="215.40" y2="504.76" stroke="#111" stroke-width="0.85"/>
<line x1="211.60" y1="542.56" x2="215.40" y2="542.56" stroke="#111" stroke-width="0.85"/>
<circle cx="212.08" cy="512.72" r="0.75" fill="#111"/>
<circle cx="212.04" cy="529.33" r="0.75" fill="#111"/>
<circle cx="214.42" cy="516.22" r="0.75" fill="#111"/>
<line x1="220.47" y1="506.00" x2="220.47" y2="534.65" stroke="#111" stroke-width="0.85"/>
<line x1="218.57" y1="506.00" x2="222.37" y2="506.00" stroke="#111" stroke-width="0.85"/>
<line x1="218.57" y1="534.65" x2="222.37" y2="534.65" stroke="#111" stroke-width="0.85"/>
<circle cx="220.36" cy="514.98" r="0.75" fill="#111"/>
<circle cx="220.13" cy="525.10" r="0.75" fill="#111"/>
<circle cx="220.64" cy="514.97" r="0.75" fill="#111"/>
<line x1="213.50" y1="555.40" x2="213.50" y2="557.90" stroke="#111" stroke-width="1.0"/>
<text transform="translate(215.70,566.30) rotate(-45)" font-size="8.5" text-anchor="end" font-style="italic" fill="#1a1a1a" stroke="#1a1a1a" stroke-width="0.16">PKM2</text>
<rect x="232.05" y="530.70" width="6.97" height="24.70" fill="#4c5467"/>
<rect x="239.02" y="549.72" width="6.97" height="5.68" fill="#e08b16"/>
<rect x="245.99" y="553.67" width="6.97" height="1.73" fill="#50206a"/>
<line x1="235.53" y1="519.09" x2="235.53" y2="542.56" stroke="#111" stroke-width="0.85"/>
<line x1="233.63" y1="519.09" x2="237.43" y2="519.09" stroke="#111" stroke-width="0.85"/>
<line x1="233.63" y1="542.56" x2="237.43" y2="542.56" stroke="#111" stroke-width="0.85"/>
<circle cx="236.13" cy="538.14" r="0.75" fill="#111"/>
<circle cx="235.23" cy="532.02" r="0.75" fill="#111"/>
<circle cx="235.90" cy="528.02" r="0.75" fill="#111"/>
<line x1="242.50" y1="548.48" x2="242.50" y2="550.46" stroke="#111" stroke-width="0.85"/>
<line x1="240.60" y1="548.48" x2="244.40" y2="548.48" stroke="#111" stroke-width="0.85"/>
<line x1="240.60" y1="550.46" x2="244.40" y2="550.46" stroke="#111" stroke-width="0.85"/>
<circle cx="241.53" cy="549.14" r="0.75" fill="#111"/>
<circle cx="243.37" cy="549.67" r="0.75" fill="#111"/>
<circle cx="242.83" cy="549.58" r="0.75" fill="#111"/>
<line x1="249.47" y1="553.42" x2="249.47" y2="554.16" stroke="#111" stroke-width="0.85"/>
<line x1="247.57" y1="553.42" x2="251.37" y2="553.42" stroke="#111" stroke-width="0.85"/>
<line x1="247.57" y1="554.16" x2="251.37" y2="554.16" stroke="#111" stroke-width="0.85"/>
<circle cx="249.31" cy="553.60" r="0.75" fill="#111"/>
<circle cx="249.28" cy="553.76" r="0.75" fill="#111"/>
<circle cx="249.23" cy="553.88" r="0.75" fill="#111"/>
<line x1="242.50" y1="555.40" x2="242.50" y2="557.90" stroke="#111" stroke-width="1.0"/>
<text transform="translate(244.70,566.30) rotate(-45)" font-size="8.5" text-anchor="end" font-style="italic" fill="#1a1a1a" stroke="#1a1a1a" stroke-width="0.16">PKLR</text>
<rect x="261.05" y="530.70" width="6.97" height="24.70" fill="#4c5467"/>
<rect x="268.02" y="530.70" width="6.97" height="24.70" fill="#e08b16"/>
<rect x="274.99" y="536.13" width="6.97" height="19.27" fill="#50206a"/>
<line x1="264.53" y1="527.49" x2="264.53" y2="534.16" stroke="#111" stroke-width="0.85"/>
<line x1="262.63" y1="527.49" x2="266.43" y2="527.49" stroke="#111" stroke-width="0.85"/>
<line x1="262.63" y1="534.16" x2="266.43" y2="534.16" stroke="#111" stroke-width="0.85"/>
<circle cx="263.86" cy="532.45" r="0.75" fill="#111"/>
<circle cx="264.72" cy="530.97" r="0.75" fill="#111"/>
<circle cx="265.92" cy="528.46" r="0.75" fill="#111"/>
<line x1="271.50" y1="524.03" x2="271.50" y2="536.88" stroke="#111" stroke-width="0.85"/>
<line x1="269.60" y1="524.03" x2="273.40" y2="524.03" stroke="#111" stroke-width="0.85"/>
<line x1="269.60" y1="536.88" x2="273.40" y2="536.88" stroke="#111" stroke-width="0.85"/>
<circle cx="272.62" cy="527.88" r="0.75" fill="#111"/>
<circle cx="271.26" cy="534.62" r="0.75" fill="#111"/>
<circle cx="270.85" cy="526.28" r="0.75" fill="#111"/>
<line x1="278.47" y1="532.18" x2="278.47" y2="538.85" stroke="#111" stroke-width="0.85"/>
<line x1="276.57" y1="532.18" x2="280.37" y2="532.18" stroke="#111" stroke-width="0.85"/>
<line x1="276.57" y1="538.85" x2="280.37" y2="538.85" stroke="#111" stroke-width="0.85"/>
<circle cx="279.17" cy="535.08" r="0.75" fill="#111"/>
<circle cx="277.38" cy="537.03" r="0.75" fill="#111"/>
<circle cx="278.60" cy="535.36" r="0.75" fill="#111"/>
<line x1="271.50" y1="555.40" x2="271.50" y2="557.90" stroke="#111" stroke-width="1.0"/>
<text transform="translate(273.70,566.30) rotate(-45)" font-size="8.5" text-anchor="end" font-style="italic" fill="#1a1a1a" stroke="#1a1a1a" stroke-width="0.16">LDHA</text>
<rect x="290.05" y="530.70" width="6.97" height="24.70" fill="#4c5467"/>
<rect x="297.02" y="535.39" width="6.97" height="20.01" fill="#e08b16"/>
<rect x="303.99" y="540.83" width="6.97" height="14.57" fill="#50206a"/>
<line x1="293.53" y1="515.39" x2="293.53" y2="543.79" stroke="#111" stroke-width="0.85"/>
<line x1="291.63" y1="515.39" x2="295.43" y2="515.39" stroke="#111" stroke-width="0.85"/>
<line x1="291.63" y1="543.79" x2="295.43" y2="543.79" stroke="#111" stroke-width="0.85"/>
<circle cx="293.80" cy="526.40" r="0.75" fill="#111"/>
<circle cx="294.93" cy="531.28" r="0.75" fill="#111"/>
<circle cx="293.63" cy="524.15" r="0.75" fill="#111"/>
<line x1="300.50" y1="526.25" x2="300.50" y2="541.32" stroke="#111" stroke-width="0.85"/>
<line x1="298.60" y1="526.25" x2="302.40" y2="526.25" stroke="#111" stroke-width="0.85"/>
<line x1="298.60" y1="541.32" x2="302.40" y2="541.32" stroke="#111" stroke-width="0.85"/>
<circle cx="300.65" cy="539.34" r="0.75" fill="#111"/>
<circle cx="299.36" cy="531.02" r="0.75" fill="#111"/>
<circle cx="300.98" cy="538.87" r="0.75" fill="#111"/>
<line x1="307.47" y1="534.65" x2="307.47" y2="546.26" stroke="#111" stroke-width="0.85"/>
<line x1="305.57" y1="534.65" x2="309.37" y2="534.65" stroke="#111" stroke-width="0.85"/>
<line x1="305.57" y1="546.26" x2="309.37" y2="546.26" stroke="#111" stroke-width="0.85"/>
<circle cx="306.28" cy="542.38" r="0.75" fill="#111"/>
<circle cx="308.38" cy="541.59" r="0.75" fill="#111"/>
<circle cx="308.86" cy="544.10" r="0.75" fill="#111"/>
<line x1="300.50" y1="555.40" x2="300.50" y2="557.90" stroke="#111" stroke-width="1.0"/>
<text transform="translate(302.70,566.30) rotate(-45)" font-size="8.5" text-anchor="end" fill="#1a1a1a" stroke="#1a1a1a" stroke-width="0.16">SLC16A1</text>
<rect x="319.05" y="530.70" width="6.97" height="24.70" fill="#4c5467"/>
<rect x="326.02" y="532.18" width="6.97" height="23.22" fill="#e08b16"/>
<rect x="332.99" y="536.63" width="6.97" height="18.77" fill="#50206a"/>
<line x1="322.53" y1="528.97" x2="322.53" y2="532.18" stroke="#111" stroke-width="0.85"/>
<line x1="320.63" y1="528.97" x2="324.43" y2="528.97" stroke="#111" stroke-width="0.85"/>
<line x1="320.63" y1="532.18" x2="324.43" y2="532.18" stroke="#111" stroke-width="0.85"/>
<circle cx="323.62" cy="529.94" r="0.75" fill="#111"/>
<circle cx="322.36" cy="530.18" r="0.75" fill="#111"/>
<circle cx="323.24" cy="531.49" r="0.75" fill="#111"/>
<line x1="329.50" y1="528.97" x2="329.50" y2="534.65" stroke="#111" stroke-width="0.85"/>
<line x1="327.60" y1="528.97" x2="331.40" y2="528.97" stroke="#111" stroke-width="0.85"/>
<line x1="327.60" y1="534.65" x2="331.40" y2="534.65" stroke="#111" stroke-width="0.85"/>
<circle cx="329.93" cy="531.17" r="0.75" fill="#111"/>
<circle cx="329.40" cy="531.17" r="0.75" fill="#111"/>
<circle cx="330.24" cy="531.67" r="0.75" fill="#111"/>
<line x1="336.47" y1="534.16" x2="336.47" y2="538.85" stroke="#111" stroke-width="0.85"/>
<line x1="334.57" y1="534.16" x2="338.37" y2="534.16" stroke="#111" stroke-width="0.85"/>
<line x1="334.57" y1="538.85" x2="338.37" y2="538.85" stroke="#111" stroke-width="0.85"/>
<circle cx="337.46" cy="537.26" r="0.75" fill="#111"/>
<circle cx="335.98" cy="536.99" r="0.75" fill="#111"/>
<circle cx="335.58" cy="535.68" r="0.75" fill="#111"/>
<line x1="329.50" y1="555.40" x2="329.50" y2="557.90" stroke="#111" stroke-width="1.0"/>
<text transform="translate(331.70,566.30) rotate(-45)" font-size="8.5" text-anchor="end" font-style="italic" fill="#1a1a1a" stroke="#1a1a1a" stroke-width="0.16">c-myc</text>
<circle cx="97.50" cy="513.90" r="0.8" fill="#222"/>
<circle cx="104.47" cy="516.87" r="0.8" fill="#222"/>
<circle cx="162.47" cy="515.39" r="0.8" fill="#222"/>
<circle cx="177.53" cy="512.92" r="0.8" fill="#222"/>
<circle cx="206.53" cy="507.73" r="0.8" fill="#222"/>
<circle cx="235.53" cy="515.39" r="0.8" fill="#222"/>
<circle cx="293.53" cy="511.93" r="0.8" fill="#222"/>
<circle cx="61.53" cy="523.29" r="0.8" fill="#222"/>
<circle cx="322.53" cy="527.74" r="0.8" fill="#222"/>
<path d="M61.5,524.2 V513.2 H75.4 V546.2" fill="none" stroke="#222" stroke-width="0.9"/>
<path d="M61.5,524.2 V521.5 H68.5 V539.2" fill="none" stroke="#222" stroke-width="0.9"/>
<circle cx="68.50" cy="508.80" r="0.9" fill="#222"/>
<circle cx="65.00" cy="518.00" r="0.9" fill="#222"/>
<path d="M235.4,519.6 V505.3 H249.9 V553.1" fill="none" stroke="#222" stroke-width="0.9"/>
<path d="M235.4,519.6 V512.7 H242.3 V548.5" fill="none" stroke="#222" stroke-width="0.9"/>
<circle cx="242.30" cy="501.60" r="0.9" fill="#222"/>
<circle cx="238.90" cy="508.80" r="0.9" fill="#222"/>
<path d="M322.3,527.7 V524.4 H336.7 V528.8" fill="none" stroke="#222" stroke-width="0.9"/>
<circle cx="329.60" cy="520.00" r="0.9" fill="#222"/>
<rect x="356.30" y="512.20" width="3.60" height="3.60" fill="#4c5467"/>
<text transform="translate(363.50,516.90)" font-size="8.2" fill="#1a1a1a" stroke="#1a1a1a" stroke-width="0.16">ctrl</text>
<rect x="356.30" y="521.30" width="3.60" height="3.60" fill="#e08b16"/>
<text transform="translate(363.50,526.00)" font-size="8.2" fill="#1a1a1a" stroke="#1a1a1a" stroke-width="0.16">S2101 20 μM</text>
<rect x="356.30" y="530.50" width="3.60" height="3.60" fill="#50206a"/>
<text transform="translate(363.50,535.20)" font-size="8.2" fill="#1a1a1a" stroke="#1a1a1a" stroke-width="0.16">S2101 100 μM</text>
<text transform="translate(7.60,615.00)" font-size="13.3" font-weight="bold" fill="#000" stroke="#000" stroke-width="0.3">I</text>
<text transform="translate(68.80,636.50) scale(1.049,1)" font-size="8.4" fill="#1a1a1a" stroke="#1a1a1a" stroke-width="0.16">S2101 (μM)</text>
<line x1="76.30" y1="641.30" x2="108.00" y2="641.30" stroke="#111" stroke-width="1.0"/>
<text transform="translate(60.80,652.00)" font-size="8.3" fill="#1a1a1a" stroke="#1a1a1a" stroke-width="0.16">ctrl</text>
<text transform="translate(78.00,652.00)" font-size="8.3" fill="#1a1a1a" stroke="#1a1a1a" stroke-width="0.16">20</text>
<text transform="translate(91.30,652.00)" font-size="8.3" fill="#1a1a1a" stroke="#1a1a1a" stroke-width="0.16">100</text>
<text transform="translate(120.00,652.00)" font-size="8.3" fill="#1a1a1a" stroke="#1a1a1a" stroke-width="0.16">kDa</text>
<text transform="translate(22.00,682.30)" font-size="8.4" fill="#1a1a1a" stroke="#1a1a1a" stroke-width="0.16">GLUT1</text>
<text transform="translate(20.00,723.00) scale(0.988,1)" font-size="8.4" fill="#1a1a1a" stroke="#1a1a1a" stroke-width="0.16">β-tubulin</text>
<line x1="116.00" y1="680.00" x2="118.80" y2="680.00" stroke="#111" stroke-width="1.0"/>
<text transform="translate(120.80,683.00)" font-size="8.4" fill="#1a1a1a" stroke="#1a1a1a" stroke-width="0.16">60</text>
<line x1="116.00" y1="695.00" x2="118.80" y2="695.00" stroke="#111" stroke-width="1.0"/>
<text transform="translate(120.80,698.00)" font-size="8.4" fill="#1a1a1a" stroke="#1a1a1a" stroke-width="0.16">50</text>
<line x1="116.00" y1="721.20" x2="118.80" y2="721.20" stroke="#111" stroke-width="1.0"/>
<text transform="translate(120.80,724.20)" font-size="8.4" fill="#1a1a1a" stroke="#1a1a1a" stroke-width="0.16">50</text>
<rect x="56.30" y="655.50" width="57.50" height="57.50" fill="#dadada" stroke="#111" stroke-width="1.3"/>
<rect x="58.70" y="659" width="15.40" height="50" fill="#c2c2c2" filter="url(#bl2)"/>
<rect x="75.10" y="659" width="15.00" height="50" fill="#c2c2c2" filter="url(#bl2)"/>
<rect x="91.10" y="659" width="15.00" height="50" fill="#c2c2c2" filter="url(#bl2)"/>
<rect x="58.70" y="675" width="15.40" height="24" rx="4" fill="#5a5a5a" filter="url(#bl25)"/>
<rect x="59.00" y="683.5" width="14.80" height="13" rx="4" fill="#080808" filter="url(#bl15)"/>
<rect x="75.10" y="675" width="15.00" height="24" rx="4" fill="#5a5a5a" filter="url(#bl25)"/>
<rect x="75.40" y="683.5" width="14.40" height="13" rx="4" fill="#080808" filter="url(#bl15)"/>
<rect x="91.10" y="679" width="14.00" height="17" rx="4" fill="#8a8a8a" filter="url(#bl25)"/>
<rect x="91.40" y="687.6" width="13.40" height="7" rx="3" fill="#101010" filter="url(#bl15)"/>
<rect x="58" y="701.5" width="49" height="2.5" fill="#b0b0b0" filter="url(#bl)"/>
<rect x="56.30" y="714.30" width="57.50" height="11.40" fill="#eaeaea" stroke="#111" stroke-width="1.3"/>
<rect x="58.5" y="720.4" width="49" height="1.8" rx="0.9" fill="#1a1a1a" filter="url(#bl)"/>
<text transform="translate(151.40,615.20)" font-size="13.3" font-weight="bold" fill="#000" stroke="#000" stroke-width="0.3">J</text>
<line x1="194.00" y1="645.40" x2="194.00" y2="716.70" stroke="#111" stroke-width="1.1"/>
<line x1="193.50" y1="716.20" x2="256.20" y2="716.20" stroke="#111" stroke-width="1.1"/>
<line x1="190.80" y1="716.20" x2="194.00" y2="716.20" stroke="#111" stroke-width="1.0"/>
<text transform="translate(187.60,719.20)" font-size="8.5" text-anchor="end" fill="#1a1a1a" stroke="#1a1a1a" stroke-width="0.16">0</text>
<line x1="190.80" y1="683.95" x2="194.00" y2="683.95" stroke="#111" stroke-width="1.0"/>
<text transform="translate(187.60,686.95)" font-size="8.5" text-anchor="end" fill="#1a1a1a" stroke="#1a1a1a" stroke-width="0.16">0.5</text>
<line x1="190.80" y1="651.70" x2="194.00" y2="651.70" stroke="#111" stroke-width="1.0"/>
<text transform="translate(187.60,654.70)" font-size="8.5" text-anchor="end" fill="#1a1a1a" stroke="#1a1a1a" stroke-width="0.16">1</text>
<line x1="191.80" y1="700.08" x2="194.00" y2="700.08" stroke="#111" stroke-width="1.0"/>
<line x1="191.80" y1="667.83" x2="194.00" y2="667.83" stroke="#111" stroke-width="1.0"/>
<rect x="200.60" y="651.70" width="11.60" height="64.50" fill="#4c5467"/>
<circle cx="203.00" cy="651.70" r="1.3" fill="#111"/>
<circle cx="206.40" cy="651.70" r="1.3" fill="#111"/>
<circle cx="209.80" cy="651.70" r="1.3" fill="#111"/>
<rect x="219.20" y="663.31" width="11.60" height="52.89" fill="#e08b16"/>
<circle cx="221.60" cy="663.31" r="1.3" fill="#111"/>
<circle cx="225.00" cy="663.31" r="1.3" fill="#111"/>
<circle cx="228.40" cy="663.31" r="1.3" fill="#111"/>
<rect x="238.30" y="676.47" width="11.60" height="39.73" fill="#50206a"/>
<circle cx="240.70" cy="676.47" r="1.3" fill="#111"/>
<circle cx="244.10" cy="676.47" r="1.3" fill="#111"/>
<circle cx="247.50" cy="676.47" r="1.3" fill="#111"/>
<path d="M206.4,635.4 V634.6 H244.1 V667.6" fill="none" stroke="#444" stroke-width="0.9"/>
<path d="M206.4,647.9 V647.1 H225.3 V657.8" fill="none" stroke="#444" stroke-width="0.9"/>
<text transform="translate(197.70,630.60)" font-size="8.1" fill="#1a1a1a" stroke="#1a1a1a" stroke-width="0.16">** p = 3.9x 10<tspan dy="-3.08" font-size="5.51">-7</tspan><tspan dy="3.08"></tspan></text>
<text transform="translate(189.00,643.00)" font-size="8.1" fill="#1a1a1a" stroke="#1a1a1a" stroke-width="0.16">** p = 4.7x 10<tspan dy="-3.08" font-size="5.51">-6</tspan><tspan dy="3.08"></tspan></text>
<text transform="translate(170.00,719.20) rotate(-90) scale(0.710,1)" font-size="10" fill="#1a1a1a" stroke="#1a1a1a" stroke-width="0.42">Relative glucose uptake</text>
<text transform="translate(206.40,730.00)" font-size="8.3" text-anchor="middle" fill="#1a1a1a" stroke="#1a1a1a" stroke-width="0.16">ctrl</text>
<text transform="translate(225.00,730.00)" font-size="8.3" text-anchor="middle" fill="#1a1a1a" stroke="#1a1a1a" stroke-width="0.16">20</text>
<text transform="translate(244.00,730.00)" font-size="8.3" text-anchor="middle" fill="#1a1a1a" stroke="#1a1a1a" stroke-width="0.16">100</text>
<line x1="219.20" y1="735.20" x2="250.60" y2="735.20" stroke="#111" stroke-width="1.0"/>
<text transform="translate(211.60,746.50) scale(1.056,1)" font-size="8.4" fill="#1a1a1a" stroke="#1a1a1a" stroke-width="0.16">S2101 (μM)</text>
<text transform="translate(274.60,615.20)" font-size="13.3" font-weight="bold" fill="#000" stroke="#000" stroke-width="0.3">K</text>
<line x1="318.50" y1="634.20" x2="318.50" y2="716.70" stroke="#111" stroke-width="1.1"/>
<line x1="318.00" y1="716.20" x2="419.20" y2="716.20" stroke="#111" stroke-width="1.1"/>
<line x1="315.20" y1="716.20" x2="318.50" y2="716.20" stroke="#111" stroke-width="1.0"/>
<text transform="translate(312.40,719.20)" font-size="8.5" text-anchor="end" fill="#1a1a1a" stroke="#1a1a1a" stroke-width="0.16">0</text>
<line x1="315.20" y1="704.86" x2="318.50" y2="704.86" stroke="#111" stroke-width="1.0"/>
<text transform="translate(312.40,707.86)" font-size="8.5" text-anchor="end" fill="#1a1a1a" stroke="#1a1a1a" stroke-width="0.16">10</text>
<line x1="315.20" y1="693.52" x2="318.50" y2="693.52" stroke="#111" stroke-width="1.0"/>
<text transform="translate(312.40,696.52)" font-size="8.5" text-anchor="end" fill="#1a1a1a" stroke="#1a1a1a" stroke-width="0.16">20</text>
<line x1="315.20" y1="682.18" x2="318.50" y2="682.18" stroke="#111" stroke-width="1.0"/>
<text transform="translate(312.40,685.18)" font-size="8.5" text-anchor="end" fill="#1a1a1a" stroke="#1a1a1a" stroke-width="0.16">30</text>
<line x1="315.20" y1="670.84" x2="318.50" y2="670.84" stroke="#111" stroke-width="1.0"/>
<text transform="translate(312.40,673.84)" font-size="8.5" text-anchor="end" fill="#1a1a1a" stroke="#1a1a1a" stroke-width="0.16">40</text>
<line x1="315.20" y1="659.50" x2="318.50" y2="659.50" stroke="#111" stroke-width="1.0"/>
<text transform="translate(312.40,662.50)" font-size="8.5" text-anchor="end" fill="#1a1a1a" stroke="#1a1a1a" stroke-width="0.16">50</text>
<line x1="315.20" y1="648.16" x2="318.50" y2="648.16" stroke="#111" stroke-width="1.0"/>
<text transform="translate(312.40,651.16)" font-size="8.5" text-anchor="end" fill="#1a1a1a" stroke="#1a1a1a" stroke-width="0.16">60</text>
<line x1="315.20" y1="636.82" x2="318.50" y2="636.82" stroke="#111" stroke-width="1.0"/>
<text transform="translate(312.40,639.82)" font-size="8.5" text-anchor="end" fill="#1a1a1a" stroke="#1a1a1a" stroke-width="0.16">70</text>
<line x1="340.20" y1="716.20" x2="340.20" y2="718.80" stroke="#111" stroke-width="1.0"/>
<text transform="translate(340.20,730.00)" font-size="8.5" text-anchor="middle" fill="#1a1a1a" stroke="#1a1a1a" stroke-width="0.16">20</text>
<line x1="361.40" y1="716.20" x2="361.40" y2="718.80" stroke="#111" stroke-width="1.0"/>
<text transform="translate(361.40,730.00)" font-size="8.5" text-anchor="middle" fill="#1a1a1a" stroke="#1a1a1a" stroke-width="0.16">40</text>
<line x1="382.60" y1="716.20" x2="382.60" y2="718.80" stroke="#111" stroke-width="1.0"/>
<text transform="translate(382.60,730.00)" font-size="8.5" text-anchor="middle" fill="#1a1a1a" stroke="#1a1a1a" stroke-width="0.16">60</text>
<line x1="403.80" y1="716.20" x2="403.80" y2="718.80" stroke="#111" stroke-width="1.0"/>
<text transform="translate(403.80,730.00)" font-size="8.5" text-anchor="middle" fill="#1a1a1a" stroke="#1a1a1a" stroke-width="0.16">80</text>
<text transform="translate(412.20,730.00)" font-size="8.5" fill="#1a1a1a" stroke="#1a1a1a" stroke-width="0.16">(min)</text>
<text transform="translate(298.00,704.80) rotate(-90) scale(0.731,1)" font-size="10" fill="#1a1a1a" stroke="#1a1a1a" stroke-width="0.42">ECAR (mpH/ min)</text>
<text transform="translate(335.20,625.40)" font-size="8.45" fill="#1a1a1a" stroke="#1a1a1a" stroke-width="0.16">Glucose</text>
<text transform="translate(376.20,625.40)" font-size="8.45" fill="#1a1a1a" stroke="#1a1a1a" stroke-width="0.16">2-DG</text>
<path d="M348.60,630.8 L354.20,630.8 L351.40,635.6 Z" fill="#111"/>
<line x1="351.40" y1="635.60" x2="351.40" y2="716.20" stroke="#222" stroke-width="1.0" stroke-dasharray="3.2 1.8"/>
<path d="M384.60,630.8 L390.20,630.8 L387.40,635.6 Z" fill="#111"/>
<line x1="387.40" y1="635.60" x2="387.40" y2="716.20" stroke="#222" stroke-width="1.0" stroke-dasharray="3.2 1.8"/>
<line x1="323.24" y1="706.33" x2="323.24" y2="704.63" stroke="#333" stroke-width="0.8"/>
<line x1="321.64" y1="704.63" x2="324.84" y2="704.63" stroke="#333" stroke-width="0.8"/>
<circle cx="323.24" cy="715.07" r="0.7" fill="#333"/>
<line x1="331.72" y1="708.49" x2="331.72" y2="706.79" stroke="#333" stroke-width="0.8"/>
<line x1="330.12" y1="706.79" x2="333.32" y2="706.79" stroke="#333" stroke-width="0.8"/>
<circle cx="331.72" cy="715.07" r="0.7" fill="#333"/>
<line x1="340.20" y1="709.06" x2="340.20" y2="707.35" stroke="#333" stroke-width="0.8"/>
<line x1="338.60" y1="707.35" x2="341.80" y2="707.35" stroke="#333" stroke-width="0.8"/>
<circle cx="340.20" cy="715.07" r="0.7" fill="#333"/>
<line x1="348.68" y1="709.96" x2="348.68" y2="708.26" stroke="#333" stroke-width="0.8"/>
<line x1="347.08" y1="708.26" x2="350.28" y2="708.26" stroke="#333" stroke-width="0.8"/>
<circle cx="348.68" cy="715.07" r="0.7" fill="#333"/>
<line x1="357.16" y1="661.43" x2="357.16" y2="652.36" stroke="#333" stroke-width="0.8"/>
<line x1="355.56" y1="652.36" x2="358.76" y2="652.36" stroke="#333" stroke-width="0.8"/>
<line x1="357.16" y1="665.40" x2="357.16" y2="702.59" stroke="#333" stroke-width="0.8"/>
<line x1="355.56" y1="702.59" x2="358.76" y2="702.59" stroke="#333" stroke-width="0.8"/>
<line x1="357.16" y1="693.52" x2="357.16" y2="704.86" stroke="#333" stroke-width="0.8"/>
<circle cx="357.16" cy="715.07" r="0.7" fill="#333"/>
<line x1="365.64" y1="659.16" x2="365.64" y2="648.95" stroke="#333" stroke-width="0.8"/>
<line x1="364.04" y1="648.95" x2="367.24" y2="648.95" stroke="#333" stroke-width="0.8"/>
<line x1="365.64" y1="662.90" x2="365.64" y2="702.59" stroke="#333" stroke-width="0.8"/>
<line x1="364.04" y1="702.59" x2="367.24" y2="702.59" stroke="#333" stroke-width="0.8"/>
<line x1="365.64" y1="692.95" x2="365.64" y2="704.86" stroke="#333" stroke-width="0.8"/>
<circle cx="365.64" cy="715.07" r="0.7" fill="#333"/>
<line x1="374.12" y1="658.37" x2="374.12" y2="644.76" stroke="#333" stroke-width="0.8"/>
<line x1="372.52" y1="644.76" x2="375.72" y2="644.76" stroke="#333" stroke-width="0.8"/>
<line x1="374.12" y1="664.04" x2="374.12" y2="702.59" stroke="#333" stroke-width="0.8"/>
<line x1="372.52" y1="702.59" x2="375.72" y2="702.59" stroke="#333" stroke-width="0.8"/>
<line x1="374.12" y1="692.95" x2="374.12" y2="704.86" stroke="#333" stroke-width="0.8"/>
<circle cx="374.12" cy="715.07" r="0.7" fill="#333"/>
<line x1="382.60" y1="658.37" x2="382.60" y2="643.62" stroke="#333" stroke-width="0.8"/>
<line x1="381.00" y1="643.62" x2="384.20" y2="643.62" stroke="#333" stroke-width="0.8"/>
<line x1="382.60" y1="664.60" x2="382.60" y2="702.59" stroke="#333" stroke-width="0.8"/>
<line x1="381.00" y1="702.59" x2="384.20" y2="702.59" stroke="#333" stroke-width="0.8"/>
<line x1="382.60" y1="693.52" x2="382.60" y2="704.86" stroke="#333" stroke-width="0.8"/>
<circle cx="382.60" cy="715.07" r="0.7" fill="#333"/>
<line x1="391.08" y1="694.65" x2="391.08" y2="690.12" stroke="#333" stroke-width="0.8"/>
<line x1="389.48" y1="690.12" x2="392.68" y2="690.12" stroke="#333" stroke-width="0.8"/>
<circle cx="391.08" cy="715.07" r="0.7" fill="#333"/>
<line x1="399.56" y1="698.28" x2="399.56" y2="695.45" stroke="#333" stroke-width="0.8"/>
<line x1="397.96" y1="695.45" x2="401.16" y2="695.45" stroke="#333" stroke-width="0.8"/>
<circle cx="399.56" cy="715.07" r="0.7" fill="#333"/>
<line x1="408.04" y1="699.76" x2="408.04" y2="696.92" stroke="#333" stroke-width="0.8"/>
<line x1="406.44" y1="696.92" x2="409.64" y2="696.92" stroke="#333" stroke-width="0.8"/>
<circle cx="408.04" cy="715.07" r="0.7" fill="#333"/>
<line x1="416.52" y1="699.76" x2="416.52" y2="696.92" stroke="#333" stroke-width="0.8"/>
<line x1="414.92" y1="696.92" x2="418.12" y2="696.92" stroke="#333" stroke-width="0.8"/>
<circle cx="416.52" cy="715.07" r="0.7" fill="#333"/>
<polyline fill="none" stroke="#56627e" stroke-width="1.5" points="323.24,706.33 331.72,708.49 340.20,709.06 348.68,709.96 357.16,661.43 365.64,659.16 374.12,658.37 382.60,658.37 391.08,694.65 399.56,698.28 408.04,699.76 416.52,699.76"/>
<polyline fill="none" stroke="#e08b16" stroke-width="1.5" points="323.24,707.58 331.72,709.40 340.20,709.40 348.68,710.30 357.16,665.40 365.64,662.90 374.12,664.04 382.60,664.60 391.08,701.46 399.56,704.18 408.04,706.33 416.52,706.90"/>
<polyline fill="none" stroke="#5a2475" stroke-width="1.5" points="323.24,712.23 331.72,713.71 340.20,713.93 348.68,713.93 357.16,693.52 365.64,692.95 374.12,692.95 382.60,693.52 391.08,711.44 399.56,712.80 408.04,713.37 416.52,713.59"/>
</g>
<rect x="0.5" y="0.5" width="519" height="756" fill="none" stroke="#000" stroke-width="1.2"/>
</svg>
</body></html>
